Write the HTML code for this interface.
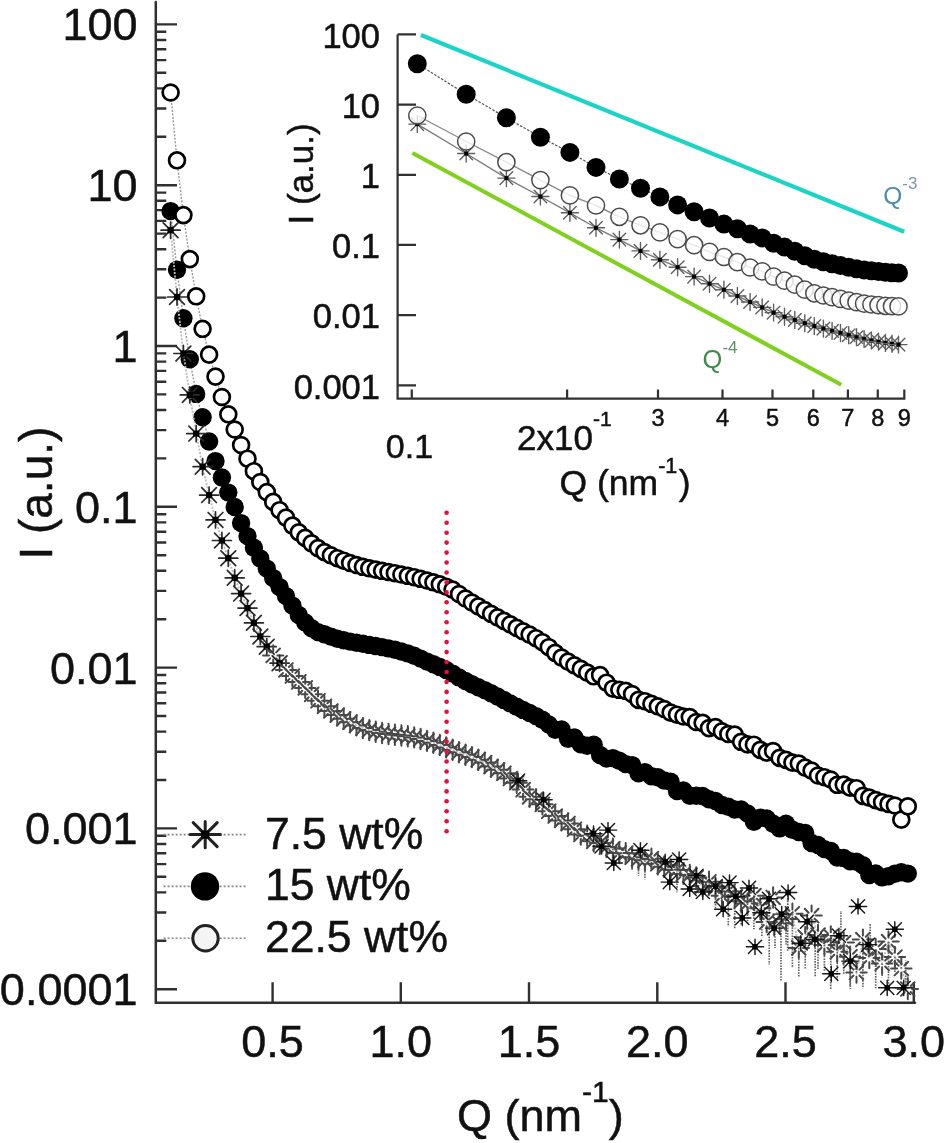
<!DOCTYPE html><html><head><meta charset="utf-8"><style>html,body{margin:0;padding:0;background:#fff;}svg{display:block;filter:blur(0.55px);}</style></head><body><svg width="944" height="1143" viewBox="0 0 944 1143">
<rect width="944" height="1143" fill="#fff"/>
<path d="M155.8 2V1002.8H915" stroke="#303030" stroke-width="2.5" fill="none" stroke-linecap="round"/>
<path d="M155.8 24.4H177M155.8 136.8H166.3M155.8 108.5H166.3M155.8 88.4H166.3M155.8 72.8H166.3M155.8 60.1H166.3M155.8 49.3H166.3M155.8 40.0H166.3M155.8 31.8H166.3M155.8 185.2H177M155.8 297.6H166.3M155.8 269.3H166.3M155.8 249.2H166.3M155.8 233.6H166.3M155.8 220.9H166.3M155.8 210.1H166.3M155.8 200.8H166.3M155.8 192.6H166.3M155.8 346.0H177M155.8 458.4H166.3M155.8 430.1H166.3M155.8 410.0H166.3M155.8 394.4H166.3M155.8 381.7H166.3M155.8 370.9H166.3M155.8 361.6H166.3M155.8 353.4H166.3M155.8 506.8H177M155.8 619.2H166.3M155.8 590.9H166.3M155.8 570.8H166.3M155.8 555.2H166.3M155.8 542.5H166.3M155.8 531.7H166.3M155.8 522.4H166.3M155.8 514.2H166.3M155.8 667.6H177M155.8 780.0H166.3M155.8 751.7H166.3M155.8 731.6H166.3M155.8 716.0H166.3M155.8 703.3H166.3M155.8 692.5H166.3M155.8 683.2H166.3M155.8 675.0H166.3M155.8 828.4H177M155.8 940.8H166.3M155.8 912.5H166.3M155.8 892.4H166.3M155.8 876.8H166.3M155.8 864.1H166.3M155.8 853.3H166.3M155.8 844.0H166.3M155.8 835.8H166.3M155.8 989.2H177M272.6 1002.8V982.3M400.8 1002.8V982.3M529.0 1002.8V982.3M657.3 1002.8V982.3M785.5 1002.8V982.3M913.8 1002.8V982.3" stroke="#303030" stroke-width="2.4" fill="none"/>
<text x="137.5" y="40.4" font-family="Liberation Sans, sans-serif" font-size="45" text-anchor="end" fill="#111" stroke="#111" stroke-width="0.5">100</text>
<text x="137.5" y="201.2" font-family="Liberation Sans, sans-serif" font-size="45" text-anchor="end" fill="#111" stroke="#111" stroke-width="0.5">10</text>
<text x="137.5" y="362.0" font-family="Liberation Sans, sans-serif" font-size="45" text-anchor="end" fill="#111" stroke="#111" stroke-width="0.5">1</text>
<text x="137.5" y="522.8" font-family="Liberation Sans, sans-serif" font-size="45" text-anchor="end" fill="#111" stroke="#111" stroke-width="0.5">0.1</text>
<text x="137.5" y="683.6" font-family="Liberation Sans, sans-serif" font-size="45" text-anchor="end" fill="#111" stroke="#111" stroke-width="0.5">0.01</text>
<text x="137.5" y="844.4" font-family="Liberation Sans, sans-serif" font-size="45" text-anchor="end" fill="#111" stroke="#111" stroke-width="0.5">0.001</text>
<text x="137.5" y="1005.2" font-family="Liberation Sans, sans-serif" font-size="45" text-anchor="end" fill="#111" stroke="#111" stroke-width="0.5">0.0001</text>
<text x="272.6" y="1056.7" font-family="Liberation Sans, sans-serif" font-size="45" text-anchor="middle" fill="#111" stroke="#111" stroke-width="0.5">0.5</text>
<text x="400.8" y="1056.7" font-family="Liberation Sans, sans-serif" font-size="45" text-anchor="middle" fill="#111" stroke="#111" stroke-width="0.5">1.0</text>
<text x="529.0" y="1056.7" font-family="Liberation Sans, sans-serif" font-size="45" text-anchor="middle" fill="#111" stroke="#111" stroke-width="0.5">1.5</text>
<text x="657.3" y="1056.7" font-family="Liberation Sans, sans-serif" font-size="45" text-anchor="middle" fill="#111" stroke="#111" stroke-width="0.5">2.0</text>
<text x="785.5" y="1056.7" font-family="Liberation Sans, sans-serif" font-size="45" text-anchor="middle" fill="#111" stroke="#111" stroke-width="0.5">2.5</text>
<text x="913.8" y="1056.7" font-family="Liberation Sans, sans-serif" font-size="45" text-anchor="middle" fill="#111" stroke="#111" stroke-width="0.5">3.0</text>
<text x="457" y="1131.2" font-family="Liberation Sans, sans-serif" font-size="45" fill="#111" stroke="#111" stroke-width="0.5">Q (nm<tspan dy="-29.5" font-size="30">-1</tspan><tspan dy="29.5">)</tspan></text>
<text transform="translate(51.7 559.6) rotate(-90)" font-family="Liberation Sans, sans-serif" font-size="46" fill="#111" stroke="#111" stroke-width="0.5">I (a.u.)</text>
<polyline points="170.6,211.1 177.0,269.8 183.4,318.3 189.8,359.3 196.2,393.9 202.6,417.2 209.1,441.5 215.5,461.1 221.9,477.5 228.3,492.6 234.7,507.0 241.1,523.1 247.5,536.1 253.9,547.7 260.3,558.4 266.8,568.6 273.2,578.1 279.6,587.1 286.0,596.1 292.4,605.6 298.8,615.0 305.2,622.4 311.6,628.3 318.0,632.1 324.4,634.3 330.9,636.6 337.3,638.7 343.7,640.3 350.1,641.6 356.5,642.7 362.9,643.8 369.3,644.9 375.7,646.0 382.1,647.1 388.5,648.4 394.9,649.8 401.4,651.5 407.8,653.4 414.2,655.7 420.6,658.6 427.0,661.6 433.4,664.3 439.8,666.9 446.2,669.9 452.6,673.6 459.0,677.4 465.5,681.0 471.9,684.2 478.3,687.2 484.7,690.1 491.1,693.2 497.5,696.5 503.9,699.9 510.3,703.4 516.7,706.7 523.1,709.9 529.6,712.9 536.0,716.1 542.4,719.7 548.8,724.5 555.2,729.8 561.6,729.5 568.0,738.8 574.4,737.5 580.8,744.3 587.2,745.7 593.7,744.8 600.1,755.0 606.5,758.6 612.9,758.1 619.3,760.7 625.7,764.1 632.1,765.1 638.5,773.2 644.9,772.1 651.4,776.2 657.8,777.2 664.2,780.5 670.6,781.8 677.0,791.1 683.4,790.5 689.8,795.8 696.2,795.7 702.6,796.0 709.0,799.2 715.5,801.0 721.9,805.0 728.3,806.7 734.7,809.5 741.1,809.5 747.5,813.5 753.9,821.7 760.3,817.7 766.7,818.4 773.1,823.7 779.6,828.4 786.0,823.7 792.4,829.8 798.8,832.0 805.2,832.9 811.6,843.0 818.0,845.0 824.4,849.1 830.8,850.9 837.2,857.5 843.7,857.9 850.1,861.3 856.5,861.8 862.9,865.2 869.3,875.0 875.7,873.4 882.1,877.4 888.5,876.2 894.9,873.7 901.3,872.2 907.8,873.6" fill="none" stroke="#999" stroke-width="1.4" stroke-dasharray="2 1.5"/>
<polyline points="170.6,92.5 177.0,160.3 183.4,215.1 189.8,259.1 196.2,296.3 202.6,328.8 209.1,354.6 215.5,376.6 221.9,397.0 228.3,414.3 234.7,429.5 241.1,445.0 247.5,458.7 253.9,471.2 260.3,482.0 266.8,492.1 273.2,501.9 279.6,510.2 286.0,517.6 292.4,525.6 298.8,532.3 305.2,537.9 311.6,543.3 318.0,548.1 324.4,552.1 330.9,555.3 337.3,558.2 343.7,560.7 350.1,563.0 356.5,565.0 362.9,566.8 369.3,568.3 375.7,569.6 382.1,570.8 388.5,572.0 394.9,573.2 401.4,574.5 407.8,575.8 414.2,577.2 420.6,578.8 427.0,580.5 433.4,582.3 439.8,584.3 446.2,586.7 452.6,589.6 459.0,594.0 465.5,598.5 471.9,602.5 478.3,606.4 484.7,610.1 491.1,613.8 497.5,617.4 503.9,620.9 510.3,624.4 516.7,627.9 523.1,631.3 529.6,634.6 536.0,638.2 542.4,642.2 548.8,647.2 555.2,652.8 561.6,657.6 568.0,661.6 574.4,665.3 580.8,668.9 587.2,672.6 593.7,676.3 600.1,675.1 606.5,682.7 612.9,688.7 619.3,689.8 625.7,690.8 632.1,694.0 638.5,699.9 644.9,701.2 651.4,703.8 657.8,706.3 664.2,709.0 670.6,712.6 677.0,714.7 683.4,716.5 689.8,717.1 696.2,722.0 702.6,722.8 709.0,728.1 715.5,727.1 721.9,731.3 728.3,734.0 734.7,734.6 741.1,741.8 747.5,744.4 753.9,744.7 760.3,749.9 766.7,752.6 773.1,751.0 779.6,757.9 786.0,759.9 792.4,762.6 798.8,763.5 805.2,767.6 811.6,770.6 818.0,775.5 824.4,777.2 830.8,779.5 837.2,784.8 843.7,784.6 850.1,787.6 856.5,788.2 862.9,795.9 869.3,797.6 875.7,800.1 882.1,802.2 888.5,803.9 894.9,805.5 901.3,819.7 907.8,806.3" fill="none" stroke="#999" stroke-width="1.4" stroke-dasharray="2 1.5"/>
<circle cx="170.6" cy="211.1" r="9.2" fill="#000"/>
<circle cx="177.0" cy="269.8" r="9.2" fill="#000"/>
<circle cx="183.4" cy="318.3" r="9.2" fill="#000"/>
<circle cx="189.8" cy="359.3" r="9.2" fill="#000"/>
<circle cx="196.2" cy="393.9" r="9.2" fill="#000"/>
<circle cx="202.6" cy="417.2" r="9.2" fill="#000"/>
<circle cx="209.1" cy="441.5" r="9.2" fill="#000"/>
<circle cx="215.5" cy="461.1" r="9.2" fill="#000"/>
<circle cx="221.9" cy="477.5" r="9.2" fill="#000"/>
<circle cx="228.3" cy="492.6" r="9.2" fill="#000"/>
<circle cx="234.7" cy="507.0" r="9.2" fill="#000"/>
<circle cx="241.1" cy="523.1" r="9.2" fill="#000"/>
<circle cx="247.5" cy="536.1" r="9.2" fill="#000"/>
<circle cx="253.9" cy="547.7" r="9.2" fill="#000"/>
<circle cx="260.3" cy="558.4" r="9.2" fill="#000"/>
<circle cx="266.8" cy="568.6" r="9.2" fill="#000"/>
<circle cx="273.2" cy="578.1" r="9.2" fill="#000"/>
<circle cx="279.6" cy="587.1" r="9.2" fill="#000"/>
<circle cx="286.0" cy="596.1" r="9.2" fill="#000"/>
<circle cx="292.4" cy="605.6" r="9.2" fill="#000"/>
<circle cx="298.8" cy="615.0" r="9.2" fill="#000"/>
<circle cx="305.2" cy="622.4" r="9.2" fill="#000"/>
<circle cx="311.6" cy="628.3" r="9.2" fill="#000"/>
<circle cx="318.0" cy="632.1" r="9.2" fill="#000"/>
<circle cx="324.4" cy="634.3" r="9.2" fill="#000"/>
<circle cx="330.9" cy="636.6" r="9.2" fill="#000"/>
<circle cx="337.3" cy="638.7" r="9.2" fill="#000"/>
<circle cx="343.7" cy="640.3" r="9.2" fill="#000"/>
<circle cx="350.1" cy="641.6" r="9.2" fill="#000"/>
<circle cx="356.5" cy="642.7" r="9.2" fill="#000"/>
<circle cx="362.9" cy="643.8" r="9.2" fill="#000"/>
<circle cx="369.3" cy="644.9" r="9.2" fill="#000"/>
<circle cx="375.7" cy="646.0" r="9.2" fill="#000"/>
<circle cx="382.1" cy="647.1" r="9.2" fill="#000"/>
<circle cx="388.5" cy="648.4" r="9.2" fill="#000"/>
<circle cx="394.9" cy="649.8" r="9.2" fill="#000"/>
<circle cx="401.4" cy="651.5" r="9.2" fill="#000"/>
<circle cx="407.8" cy="653.4" r="9.2" fill="#000"/>
<circle cx="414.2" cy="655.7" r="9.2" fill="#000"/>
<circle cx="420.6" cy="658.6" r="9.2" fill="#000"/>
<circle cx="427.0" cy="661.6" r="9.2" fill="#000"/>
<circle cx="433.4" cy="664.3" r="9.2" fill="#000"/>
<circle cx="439.8" cy="666.9" r="9.2" fill="#000"/>
<circle cx="446.2" cy="669.9" r="9.2" fill="#000"/>
<circle cx="452.6" cy="673.6" r="9.2" fill="#000"/>
<circle cx="459.0" cy="677.4" r="9.2" fill="#000"/>
<circle cx="465.5" cy="681.0" r="9.2" fill="#000"/>
<circle cx="471.9" cy="684.2" r="9.2" fill="#000"/>
<circle cx="478.3" cy="687.2" r="9.2" fill="#000"/>
<circle cx="484.7" cy="690.1" r="9.2" fill="#000"/>
<circle cx="491.1" cy="693.2" r="9.2" fill="#000"/>
<circle cx="497.5" cy="696.5" r="9.2" fill="#000"/>
<circle cx="503.9" cy="699.9" r="9.2" fill="#000"/>
<circle cx="510.3" cy="703.4" r="9.2" fill="#000"/>
<circle cx="516.7" cy="706.7" r="9.2" fill="#000"/>
<circle cx="523.1" cy="709.9" r="9.2" fill="#000"/>
<circle cx="529.6" cy="712.9" r="9.2" fill="#000"/>
<circle cx="536.0" cy="716.1" r="9.2" fill="#000"/>
<circle cx="542.4" cy="719.7" r="9.2" fill="#000"/>
<circle cx="548.8" cy="724.5" r="9.2" fill="#000"/>
<circle cx="555.2" cy="729.8" r="9.2" fill="#000"/>
<circle cx="561.6" cy="729.5" r="9.2" fill="#000"/>
<circle cx="568.0" cy="738.8" r="9.2" fill="#000"/>
<circle cx="574.4" cy="737.5" r="9.2" fill="#000"/>
<circle cx="580.8" cy="744.3" r="9.2" fill="#000"/>
<circle cx="587.2" cy="745.7" r="9.2" fill="#000"/>
<circle cx="593.7" cy="744.8" r="9.2" fill="#000"/>
<circle cx="600.1" cy="755.0" r="9.2" fill="#000"/>
<circle cx="606.5" cy="758.6" r="9.2" fill="#000"/>
<circle cx="612.9" cy="758.1" r="9.2" fill="#000"/>
<circle cx="619.3" cy="760.7" r="9.2" fill="#000"/>
<circle cx="625.7" cy="764.1" r="9.2" fill="#000"/>
<circle cx="632.1" cy="765.1" r="9.2" fill="#000"/>
<circle cx="638.5" cy="773.2" r="9.2" fill="#000"/>
<circle cx="644.9" cy="772.1" r="9.2" fill="#000"/>
<circle cx="651.4" cy="776.2" r="9.2" fill="#000"/>
<circle cx="657.8" cy="777.2" r="9.2" fill="#000"/>
<circle cx="664.2" cy="780.5" r="9.2" fill="#000"/>
<circle cx="670.6" cy="781.8" r="9.2" fill="#000"/>
<circle cx="677.0" cy="791.1" r="9.2" fill="#000"/>
<circle cx="683.4" cy="790.5" r="9.2" fill="#000"/>
<circle cx="689.8" cy="795.8" r="9.2" fill="#000"/>
<circle cx="696.2" cy="795.7" r="9.2" fill="#000"/>
<circle cx="702.6" cy="796.0" r="9.2" fill="#000"/>
<circle cx="709.0" cy="799.2" r="9.2" fill="#000"/>
<circle cx="715.5" cy="801.0" r="9.2" fill="#000"/>
<circle cx="721.9" cy="805.0" r="9.2" fill="#000"/>
<circle cx="728.3" cy="806.7" r="9.2" fill="#000"/>
<circle cx="734.7" cy="809.5" r="9.2" fill="#000"/>
<circle cx="741.1" cy="809.5" r="9.2" fill="#000"/>
<circle cx="747.5" cy="813.5" r="9.2" fill="#000"/>
<circle cx="753.9" cy="821.7" r="9.2" fill="#000"/>
<circle cx="760.3" cy="817.7" r="9.2" fill="#000"/>
<circle cx="766.7" cy="818.4" r="9.2" fill="#000"/>
<circle cx="773.1" cy="823.7" r="9.2" fill="#000"/>
<circle cx="779.6" cy="828.4" r="9.2" fill="#000"/>
<circle cx="786.0" cy="823.7" r="9.2" fill="#000"/>
<circle cx="792.4" cy="829.8" r="9.2" fill="#000"/>
<circle cx="798.8" cy="832.0" r="9.2" fill="#000"/>
<circle cx="805.2" cy="832.9" r="9.2" fill="#000"/>
<circle cx="811.6" cy="843.0" r="9.2" fill="#000"/>
<circle cx="818.0" cy="845.0" r="9.2" fill="#000"/>
<circle cx="824.4" cy="849.1" r="9.2" fill="#000"/>
<circle cx="830.8" cy="850.9" r="9.2" fill="#000"/>
<circle cx="837.2" cy="857.5" r="9.2" fill="#000"/>
<circle cx="843.7" cy="857.9" r="9.2" fill="#000"/>
<circle cx="850.1" cy="861.3" r="9.2" fill="#000"/>
<circle cx="856.5" cy="861.8" r="9.2" fill="#000"/>
<circle cx="862.9" cy="865.2" r="9.2" fill="#000"/>
<circle cx="869.3" cy="875.0" r="9.2" fill="#000"/>
<circle cx="875.7" cy="873.4" r="9.2" fill="#000"/>
<circle cx="882.1" cy="877.4" r="9.2" fill="#000"/>
<circle cx="888.5" cy="876.2" r="9.2" fill="#000"/>
<circle cx="894.9" cy="873.7" r="9.2" fill="#000"/>
<circle cx="901.3" cy="872.2" r="9.2" fill="#000"/>
<circle cx="907.8" cy="873.6" r="9.2" fill="#000"/>
<polyline points="170.6,230.2 177.0,297.0 183.4,353.5 189.8,394.9 196.2,433.6 202.6,466.7 209.1,495.1 215.5,519.9 221.9,540.5 228.3,558.2 234.7,577.8 241.1,593.6 247.5,608.1 253.9,622.8 260.3,636.5 266.8,646.7 273.2,655.4 279.6,663.2 286.0,670.0 292.4,676.1 298.8,681.9 305.2,687.9 311.6,694.3 318.0,700.7 324.4,706.3 330.9,711.0 337.3,715.1 343.7,718.8 350.1,722.2 356.5,725.4 362.9,728.1 369.3,730.1 375.7,731.7 382.1,733.0 388.5,734.0 394.9,734.8 401.4,735.5 407.8,736.2 414.2,737.4 420.6,739.0 427.0,740.9 433.4,742.8 439.8,745.0 446.2,747.4 452.6,749.8 459.0,752.3 465.5,754.7 471.9,757.1 478.3,759.7 484.7,762.6 491.1,766.6 497.5,769.8 503.9,773.2 510.3,778.5 516.7,782.8 523.1,789.6 529.6,796.8 536.0,799.3 542.4,804.3 548.8,811.2 555.2,816.0 561.6,820.4 568.0,823.4 574.4,829.2 580.8,834.6 587.2,835.8 593.7,841.3 600.1,843.0 606.5,847.1 612.9,848.6 619.3,853.0 625.7,853.2 632.1,857.3 638.5,859.0 644.9,860.3 651.4,858.7 657.8,863.7 664.2,866.8 670.6,869.6 677.0,869.9 683.4,873.9 689.8,875.0 696.2,877.4 702.6,886.0 709.0,881.8 715.5,887.8 721.9,895.7 728.3,891.2 734.7,896.9 741.1,901.2 747.5,903.5 753.9,895.7 760.3,908.2 766.7,922.1 773.1,897.5 779.6,923.5 786.0,919.0 792.4,913.8 798.8,947.9 805.2,937.2 811.6,915.6 818.0,935.1 824.4,944.9 830.8,936.5 837.2,951.8 843.7,942.6 850.1,956.8 856.5,972.6 862.9,939.6 869.3,958.0 875.7,949.1 882.1,963.5 888.5,941.6 894.9,957.0 901.3,968.6 907.8,989.0" fill="none" stroke="#bbb" stroke-width="1.8" stroke-dasharray="2 1.5"/>
<path d="M612.9 848.6V860.4M619.3 853.0V863.2M632.1 857.3V870.5M638.5 859.0V876.0M644.9 860.3V879.4M657.8 863.7V875.6M677.0 869.9V892.3M696.2 877.4V889.4M709.0 881.8V896.0M715.5 887.8V909.0M728.3 891.2V926.4M734.7 896.9V929.2M741.1 901.2V925.5M747.5 903.5V923.4M753.9 895.7V929.3M760.3 908.2V920.2M786.0 919.0V944.4M792.4 913.8V968.0M798.8 947.9V977.1M805.2 937.2V969.2M818.0 935.1V969.4M824.4 944.9V971.4M830.8 936.5V971.8M837.2 951.8V980.1M843.7 942.6V974.5M850.1 956.8V986.0M856.5 972.6V968.3M862.9 939.6V988.5M875.7 949.1V988.3M882.1 963.5V977.2M888.5 941.6V987.0M894.9 957.0V972.6M901.3 968.6V966.6M907.8 989.0V976.2M761.9 912.8V937.0M769.2 898.8V964.4M781.0 914.1V980.6M775.0 928.1V948.1M787.7 892.5V951.7M815.2 939.5V977.3M830.7 973.8V989.0M840.9 935.7V911.1M850.3 961.1V989.0M870.2 944.6V923.3M886.3 987.8V989.0M903.1 987.8V989.0M905.7 987.8V960.2" stroke="#666" stroke-width="1.7" stroke-dasharray="1.6 1.1" fill="none"/>
<path d="M170.6 230.2L180.1 230.2M170.6 230.2L178.0 237.6M170.6 230.2L170.6 238.3M170.6 230.2L163.2 237.6M170.6 230.2L161.1 230.2M170.6 230.2L163.2 222.8M170.6 230.2L170.6 222.1M170.6 230.2L178.0 222.8" stroke="#2a2a2a" stroke-width="1.7" stroke-linecap="round" fill="none"/><rect x="167.5" y="227.1" width="6.2" height="6.2" fill="#000"/>
<path d="M177.0 297.0L186.5 297.0M177.0 297.0L184.4 304.4M177.0 297.0L177.0 305.1M177.0 297.0L169.6 304.4M177.0 297.0L167.5 297.0M177.0 297.0L169.6 289.6M177.0 297.0L177.0 288.9M177.0 297.0L184.4 289.6" stroke="#2a2a2a" stroke-width="1.7" stroke-linecap="round" fill="none"/><rect x="173.9" y="293.9" width="6.2" height="6.2" fill="#000"/>
<path d="M183.4 353.5L192.9 353.5M183.4 353.5L190.8 360.9M183.4 353.5L183.4 361.6M183.4 353.5L176.0 360.9M183.4 353.5L173.9 353.5M183.4 353.5L176.0 346.1M183.4 353.5L183.4 345.4M183.4 353.5L190.8 346.1" stroke="#2a2a2a" stroke-width="1.7" stroke-linecap="round" fill="none"/><rect x="180.3" y="350.4" width="6.2" height="6.2" fill="#000"/>
<path d="M189.8 394.9L199.3 394.9M189.8 394.9L197.2 402.3M189.8 394.9L189.8 403.0M189.8 394.9L182.4 402.3M189.8 394.9L180.3 394.9M189.8 394.9L182.4 387.5M189.8 394.9L189.8 386.8M189.8 394.9L197.2 387.5" stroke="#2a2a2a" stroke-width="1.7" stroke-linecap="round" fill="none"/><rect x="186.7" y="391.8" width="6.2" height="6.2" fill="#000"/>
<path d="M196.2 433.6L205.7 433.6M196.2 433.6L203.6 441.0M196.2 433.6L196.2 441.7M196.2 433.6L188.9 441.0M196.2 433.6L186.7 433.6M196.2 433.6L188.9 426.2M196.2 433.6L196.2 425.5M196.2 433.6L203.6 426.2" stroke="#2a2a2a" stroke-width="1.7" stroke-linecap="round" fill="none"/><rect x="193.1" y="430.5" width="6.2" height="6.2" fill="#000"/>
<path d="M202.6 466.7L212.1 466.7M202.6 466.7L210.0 474.1M202.6 466.7L202.6 474.8M202.6 466.7L195.3 474.1M202.6 466.7L193.1 466.7M202.6 466.7L195.3 459.3M202.6 466.7L202.6 458.6M202.6 466.7L210.0 459.3" stroke="#2a2a2a" stroke-width="1.7" stroke-linecap="round" fill="none"/><rect x="199.5" y="463.6" width="6.2" height="6.2" fill="#000"/>
<path d="M209.1 495.1L218.6 495.1M209.1 495.1L216.4 502.5M209.1 495.1L209.1 503.2M209.1 495.1L201.7 502.5M209.1 495.1L199.6 495.1M209.1 495.1L201.7 487.7M209.1 495.1L209.1 487.0M209.1 495.1L216.4 487.7" stroke="#2a2a2a" stroke-width="1.7" stroke-linecap="round" fill="none"/><rect x="206.0" y="492.0" width="6.2" height="6.2" fill="#000"/>
<path d="M215.5 519.9L225.0 519.9M215.5 519.9L222.9 527.3M215.5 519.9L215.5 528.0M215.5 519.9L208.1 527.3M215.5 519.9L206.0 519.9M215.5 519.9L208.1 512.5M215.5 519.9L215.5 511.8M215.5 519.9L222.9 512.5" stroke="#2a2a2a" stroke-width="1.7" stroke-linecap="round" fill="none"/><rect x="212.4" y="516.8" width="6.2" height="6.2" fill="#000"/>
<path d="M221.9 540.5L231.4 540.5M221.9 540.5L229.3 547.9M221.9 540.5L221.9 548.6M221.9 540.5L214.5 547.9M221.9 540.5L212.4 540.5M221.9 540.5L214.5 533.1M221.9 540.5L221.9 532.4M221.9 540.5L229.3 533.1" stroke="#2a2a2a" stroke-width="1.7" stroke-linecap="round" fill="none"/><rect x="218.8" y="537.4" width="6.2" height="6.2" fill="#000"/>
<path d="M228.3 558.2L237.8 558.2M228.3 558.2L235.7 565.6M228.3 558.2L228.3 566.3M228.3 558.2L220.9 565.6M228.3 558.2L218.8 558.2M228.3 558.2L220.9 550.8M228.3 558.2L228.3 550.1M228.3 558.2L235.7 550.8" stroke="#2a2a2a" stroke-width="1.7" stroke-linecap="round" fill="none"/><rect x="225.2" y="555.1" width="6.2" height="6.2" fill="#000"/>
<path d="M234.7 577.8L244.2 577.8M234.7 577.8L242.1 585.2M234.7 577.8L234.7 585.9M234.7 577.8L227.3 585.2M234.7 577.8L225.2 577.8M234.7 577.8L227.3 570.4M234.7 577.8L234.7 569.7M234.7 577.8L242.1 570.4" stroke="#2a2a2a" stroke-width="1.7" stroke-linecap="round" fill="none"/><rect x="231.6" y="574.7" width="6.2" height="6.2" fill="#000"/>
<path d="M241.1 593.6L250.6 593.6M241.1 593.6L248.5 601.0M241.1 593.6L241.1 601.7M241.1 593.6L233.7 601.0M241.1 593.6L231.6 593.6M241.1 593.6L233.7 586.2M241.1 593.6L241.1 585.5M241.1 593.6L248.5 586.2" stroke="#2a2a2a" stroke-width="1.7" stroke-linecap="round" fill="none"/><rect x="238.0" y="590.5" width="6.2" height="6.2" fill="#000"/>
<path d="M247.5 608.1L257.0 608.1M247.5 608.1L254.9 615.4M247.5 608.1L247.5 616.1M247.5 608.1L240.1 615.4M247.5 608.1L238.0 608.1M247.5 608.1L240.1 600.7M247.5 608.1L247.5 600.0M247.5 608.1L254.9 600.7" stroke="#2a2a2a" stroke-width="1.7" stroke-linecap="round" fill="none"/><rect x="244.4" y="605.0" width="6.2" height="6.2" fill="#000"/>
<path d="M253.9 622.8L263.4 622.8M253.9 622.8L261.3 630.2M253.9 622.8L253.9 630.9M253.9 622.8L246.5 630.2M253.9 622.8L244.4 622.8M253.9 622.8L246.5 615.4M253.9 622.8L253.9 614.7M253.9 622.8L261.3 615.4" stroke="#2a2a2a" stroke-width="1.7" stroke-linecap="round" fill="none"/><rect x="250.8" y="619.7" width="6.2" height="6.2" fill="#000"/>
<path d="M260.3 636.5L269.8 636.5M260.3 636.5L267.7 643.9M260.3 636.5L260.3 644.6M260.3 636.5L253.0 643.9M260.3 636.5L250.8 636.5M260.3 636.5L253.0 629.1M260.3 636.5L260.3 628.4M260.3 636.5L267.7 629.1" stroke="#2a2a2a" stroke-width="1.7" stroke-linecap="round" fill="none"/><rect x="257.2" y="633.4" width="6.2" height="6.2" fill="#000"/>
<path d="M266.8 646.7L276.2 646.7M266.8 646.7L274.1 654.1M266.8 646.7L266.8 654.8M266.8 646.7L259.4 654.1M266.8 646.7L257.2 646.7M266.8 646.7L259.4 639.3M266.8 646.7L266.8 638.6M266.8 646.7L274.1 639.3" stroke="#2a2a2a" stroke-width="1.7" stroke-linecap="round" fill="none"/><rect x="263.6" y="643.6" width="6.2" height="6.2" fill="#000"/>
<path d="M277.4 655.4L283.4 655.4M276.1 658.4L280.0 662.2M273.2 659.6L273.2 665.6M270.2 658.4L266.3 662.2M269.0 655.4L263.0 655.4M270.2 652.4L266.3 648.5M273.2 651.2L273.2 645.2M276.1 652.4L280.0 648.5" stroke="#484848" stroke-width="2.0" stroke-linecap="round" fill="none"/>
<path d="M279.6 663.2L289.1 663.2M279.6 663.2L287.0 670.6M279.6 663.2L279.6 671.3M279.6 663.2L272.2 670.6M279.6 663.2L270.1 663.2M279.6 663.2L272.2 655.8M279.6 663.2L279.6 655.1M279.6 663.2L287.0 655.8" stroke="#2a2a2a" stroke-width="1.7" stroke-linecap="round" fill="none"/><rect x="276.5" y="660.1" width="6.2" height="6.2" fill="#000"/>
<path d="M290.2 670.0L296.2 670.0M288.9 673.0L292.8 676.8M286.0 674.2L286.0 680.2M283.0 673.0L279.1 676.8M281.8 670.0L275.8 670.0M283.0 667.0L279.1 663.1M286.0 665.8L286.0 659.8M288.9 667.0L292.8 663.1" stroke="#484848" stroke-width="2.0" stroke-linecap="round" fill="none"/>
<path d="M296.6 676.1L302.6 676.1M295.4 679.0L299.2 682.9M292.4 680.3L292.4 686.3M289.4 679.0L285.5 682.9M288.2 676.1L282.2 676.1M289.4 673.1L285.5 669.2M292.4 671.9L292.4 665.9M295.4 673.1L299.2 669.2" stroke="#484848" stroke-width="2.0" stroke-linecap="round" fill="none"/>
<path d="M303.0 681.9L309.0 681.9M301.8 684.8L305.7 688.7M298.8 686.1L298.8 692.1M295.8 684.8L291.9 688.7M294.6 681.9L288.6 681.9M295.8 678.9L291.9 675.0M298.8 677.7L298.8 671.7M301.8 678.9L305.7 675.0" stroke="#484848" stroke-width="2.0" stroke-linecap="round" fill="none"/>
<path d="M309.4 687.9L315.4 687.9M308.2 690.8L312.1 694.7M305.2 692.1L305.2 698.1M302.2 690.8L298.4 694.7M301.0 687.9L295.0 687.9M302.2 684.9L298.4 681.0M305.2 683.7L305.2 677.7M308.2 684.9L312.1 681.0" stroke="#484848" stroke-width="2.0" stroke-linecap="round" fill="none"/>
<path d="M315.8 694.3L321.8 694.3M314.6 697.3L318.5 701.2M311.6 698.5L311.6 704.5M308.7 697.3L304.8 701.2M307.4 694.3L301.4 694.3M308.7 691.3L304.8 687.5M311.6 690.1L311.6 684.1M314.6 691.3L318.5 687.5" stroke="#484848" stroke-width="2.0" stroke-linecap="round" fill="none"/>
<path d="M322.2 700.7L328.2 700.7M321.0 703.7L324.9 707.6M318.0 704.9L318.0 710.9M315.1 703.7L311.2 707.6M313.8 700.7L307.8 700.7M315.1 697.7L311.2 693.9M318.0 696.5L318.0 690.5M321.0 697.7L324.9 693.9" stroke="#484848" stroke-width="2.0" stroke-linecap="round" fill="none"/>
<path d="M328.6 706.3L334.6 706.3M327.4 709.3L331.3 713.2M324.4 710.5L324.4 716.5M321.5 709.3L317.6 713.2M320.2 706.3L314.2 706.3M321.5 703.3L317.6 699.4M324.4 702.1L324.4 696.1M327.4 703.3L331.3 699.4" stroke="#484848" stroke-width="2.0" stroke-linecap="round" fill="none"/>
<path d="M335.1 711.0L341.1 711.0M333.8 713.9L337.7 717.8M330.9 715.2L330.9 721.2M327.9 713.9L324.0 717.8M326.7 711.0L320.7 711.0M327.9 708.0L324.0 704.1M330.9 706.8L330.9 700.8M333.8 708.0L337.7 704.1" stroke="#484848" stroke-width="2.0" stroke-linecap="round" fill="none"/>
<path d="M341.5 715.1L347.5 715.1M340.2 718.1L344.1 722.0M337.3 719.3L337.3 725.3M334.3 718.1L330.4 722.0M333.1 715.1L327.1 715.1M334.3 712.1L330.4 708.2M337.3 710.9L337.3 704.9M340.2 712.1L344.1 708.2" stroke="#484848" stroke-width="2.0" stroke-linecap="round" fill="none"/>
<path d="M347.9 718.8L353.9 718.8M346.6 721.8L350.5 725.7M343.7 723.0L343.7 729.0M340.7 721.8L336.8 725.7M339.5 718.8L333.5 718.8M340.7 715.8L336.8 712.0M343.7 714.6L343.7 708.6M346.6 715.8L350.5 712.0" stroke="#484848" stroke-width="2.0" stroke-linecap="round" fill="none"/>
<path d="M354.3 722.2L360.3 722.2M353.0 725.2L356.9 729.0M350.1 726.4L350.1 732.4M347.1 725.2L343.2 729.0M345.9 722.2L339.9 722.2M347.1 719.2L343.2 715.3M350.1 718.0L350.1 712.0M353.0 719.2L356.9 715.3" stroke="#484848" stroke-width="2.0" stroke-linecap="round" fill="none"/>
<path d="M360.7 725.4L366.7 725.4M359.5 728.3L363.3 732.2M356.5 729.6L356.5 735.6M353.5 728.3L349.6 732.2M352.3 725.4L346.3 725.4M353.5 722.4L349.6 718.5M356.5 721.2L356.5 715.2M359.5 722.4L363.3 718.5" stroke="#484848" stroke-width="2.0" stroke-linecap="round" fill="none"/>
<path d="M367.1 728.1L373.1 728.1M365.9 731.1L369.8 735.0M362.9 732.3L362.9 738.3M359.9 731.1L356.0 735.0M358.7 728.1L352.7 728.1M359.9 725.1L356.0 721.3M362.9 723.9L362.9 717.9M365.9 725.1L369.8 721.3" stroke="#484848" stroke-width="2.0" stroke-linecap="round" fill="none"/>
<path d="M373.5 730.1L379.5 730.1M372.3 733.1L376.2 737.0M369.3 734.3L369.3 740.3M366.3 733.1L362.5 737.0M365.1 730.1L359.1 730.1M366.3 727.1L362.5 723.3M369.3 725.9L369.3 719.9M372.3 727.1L376.2 723.3" stroke="#484848" stroke-width="2.0" stroke-linecap="round" fill="none"/>
<path d="M379.9 731.7L385.9 731.7M378.7 734.7L382.6 738.5M375.7 735.9L375.7 741.9M372.8 734.7L368.9 738.5M371.5 731.7L365.5 731.7M372.8 728.7L368.9 724.8M375.7 727.5L375.7 721.5M378.7 728.7L382.6 724.8" stroke="#484848" stroke-width="2.0" stroke-linecap="round" fill="none"/>
<path d="M386.3 733.0L392.3 733.0M385.1 735.9L389.0 739.8M382.1 737.2L382.1 743.2M379.2 735.9L375.3 739.8M377.9 733.0L371.9 733.0M379.2 730.0L375.3 726.1M382.1 728.8L382.1 722.8M385.1 730.0L389.0 726.1" stroke="#484848" stroke-width="2.0" stroke-linecap="round" fill="none"/>
<path d="M392.7 734.0L398.7 734.0M391.5 737.0L395.4 740.9M388.5 738.2L388.5 744.2M385.6 737.0L381.7 740.9M384.3 734.0L378.3 734.0M385.6 731.1L381.7 727.2M388.5 729.8L388.5 723.8M391.5 731.1L395.4 727.2" stroke="#484848" stroke-width="2.0" stroke-linecap="round" fill="none"/>
<path d="M399.1 734.8L405.1 734.8M397.9 737.8L401.8 741.7M394.9 739.0L394.9 745.0M392.0 737.8L388.1 741.7M390.8 734.8L384.8 734.8M392.0 731.9L388.1 728.0M394.9 730.6L394.9 724.6M397.9 731.9L401.8 728.0" stroke="#484848" stroke-width="2.0" stroke-linecap="round" fill="none"/>
<path d="M405.6 735.5L411.6 735.5M404.3 738.4L408.2 742.3M401.4 739.7L401.4 745.7M398.4 738.4L394.5 742.3M397.2 735.5L391.2 735.5M398.4 732.5L394.5 728.6M401.4 731.3L401.4 725.3M404.3 732.5L408.2 728.6" stroke="#484848" stroke-width="2.0" stroke-linecap="round" fill="none"/>
<path d="M412.0 736.2L418.0 736.2M410.7 739.2L414.6 743.1M407.8 740.4L407.8 746.4M404.8 739.2L400.9 743.1M403.6 736.2L397.6 736.2M404.8 733.3L400.9 729.4M407.8 732.0L407.8 726.0M410.7 733.3L414.6 729.4" stroke="#484848" stroke-width="2.0" stroke-linecap="round" fill="none"/>
<path d="M418.4 737.4L424.4 737.4M417.1 740.4L421.0 744.3M414.2 741.6L414.2 747.6M411.2 740.4L407.3 744.3M410.0 737.4L404.0 737.4M411.2 734.4L407.3 730.6M414.2 733.2L414.2 727.2M417.1 734.4L421.0 730.6" stroke="#484848" stroke-width="2.0" stroke-linecap="round" fill="none"/>
<path d="M424.8 739.0L430.8 739.0M423.6 742.0L427.4 745.9M420.6 743.2L420.6 749.2M417.6 742.0L413.7 745.9M416.4 739.0L410.4 739.0M417.6 736.0L413.7 732.2M420.6 734.8L420.6 728.8M423.6 736.0L427.4 732.2" stroke="#484848" stroke-width="2.0" stroke-linecap="round" fill="none"/>
<path d="M431.2 740.9L437.2 740.9M430.0 743.9L433.9 747.7M427.0 745.1L427.0 751.1M424.0 743.9L420.1 747.7M422.8 740.9L416.8 740.9M424.0 737.9L420.1 734.0M427.0 736.7L427.0 730.7M430.0 737.9L433.9 734.0" stroke="#484848" stroke-width="2.0" stroke-linecap="round" fill="none"/>
<path d="M437.6 742.8L443.6 742.8M436.4 745.8L440.3 749.7M433.4 747.0L433.4 753.0M430.4 745.8L426.6 749.7M429.2 742.8L423.2 742.8M430.4 739.9L426.6 736.0M433.4 738.6L433.4 732.6M436.4 739.9L440.3 736.0" stroke="#484848" stroke-width="2.0" stroke-linecap="round" fill="none"/>
<path d="M444.0 745.0L450.0 745.0M442.8 748.0L446.7 751.9M439.8 749.2L439.8 755.2M436.9 748.0L433.0 751.9M435.6 745.0L429.6 745.0M436.9 742.1L433.0 738.2M439.8 740.8L439.8 734.8M442.8 742.1L446.7 738.2" stroke="#484848" stroke-width="2.0" stroke-linecap="round" fill="none"/>
<path d="M450.4 747.4L456.4 747.4M449.2 750.4L453.1 754.2M446.2 751.6L446.2 757.6M443.3 750.4L439.4 754.2M442.0 747.4L436.0 747.4M443.3 744.4L439.4 740.5M446.2 743.2L446.2 737.2M449.2 744.4L453.1 740.5" stroke="#484848" stroke-width="2.0" stroke-linecap="round" fill="none"/>
<path d="M456.8 749.8L462.8 749.8M455.6 752.8L459.5 756.7M452.6 754.0L452.6 760.0M449.7 752.8L445.8 756.7M448.4 749.8L442.4 749.8M449.7 746.9L445.8 743.0M452.6 745.6L452.6 739.6M455.6 746.9L459.5 743.0" stroke="#484848" stroke-width="2.0" stroke-linecap="round" fill="none"/>
<path d="M463.2 752.3L469.2 752.3M462.0 755.3L465.9 759.1M459.0 756.5L459.0 762.5M456.1 755.3L452.2 759.1M454.8 752.3L448.8 752.3M456.1 749.3L452.2 745.4M459.0 748.1L459.0 742.1M462.0 749.3L465.9 745.4" stroke="#484848" stroke-width="2.0" stroke-linecap="round" fill="none"/>
<path d="M469.7 754.7L475.7 754.7M468.4 757.6L472.3 761.5M465.5 758.9L465.5 764.9M462.5 757.6L458.6 761.5M461.3 754.7L455.3 754.7M462.5 751.7L458.6 747.8M465.5 750.5L465.5 744.5M468.4 751.7L472.3 747.8" stroke="#484848" stroke-width="2.0" stroke-linecap="round" fill="none"/>
<path d="M476.1 757.1L482.1 757.1M474.8 760.0L478.7 763.9M471.9 761.3L471.9 767.3M468.9 760.0L465.0 763.9M467.7 757.1L461.7 757.1M468.9 754.1L465.0 750.2M471.9 752.9L471.9 746.9M474.8 754.1L478.7 750.2" stroke="#484848" stroke-width="2.0" stroke-linecap="round" fill="none"/>
<path d="M482.5 759.7L488.5 759.7M481.2 762.6L485.1 766.5M478.3 763.9L478.3 769.9M475.3 762.6L471.4 766.5M474.1 759.7L468.1 759.7M475.3 756.7L471.4 752.8M478.3 755.5L478.3 749.5M481.2 756.7L485.1 752.8" stroke="#484848" stroke-width="2.0" stroke-linecap="round" fill="none"/>
<path d="M488.9 762.6L494.9 762.6M487.7 765.6L491.5 769.5M484.7 766.8L484.7 772.8M481.7 765.6L477.8 769.5M480.5 762.6L474.5 762.6M481.7 759.7L477.8 755.8M484.7 758.4L484.7 752.4M487.7 759.7L491.5 755.8" stroke="#484848" stroke-width="2.0" stroke-linecap="round" fill="none"/>
<path d="M495.3 766.6L501.3 766.6M494.1 769.6L498.0 773.5M491.1 770.8L491.1 776.8M488.1 769.6L484.2 773.5M486.9 766.6L480.9 766.6M488.1 763.7L484.2 759.8M491.1 762.4L491.1 756.4M494.1 763.7L498.0 759.8" stroke="#484848" stroke-width="2.0" stroke-linecap="round" fill="none"/>
<path d="M501.7 769.8L507.7 769.8M500.5 772.8L504.4 776.7M497.5 774.0L497.5 780.0M494.5 772.8L490.7 776.7M493.3 769.8L487.3 769.8M494.5 766.9L490.7 763.0M497.5 765.6L497.5 759.6M500.5 766.9L504.4 763.0" stroke="#484848" stroke-width="2.0" stroke-linecap="round" fill="none"/>
<path d="M508.1 773.2L514.1 773.2M506.9 776.2L510.8 780.1M503.9 777.4L503.9 783.4M501.0 776.2L497.1 780.1M499.7 773.2L493.7 773.2M501.0 770.3L497.1 766.4M503.9 769.0L503.9 763.0M506.9 770.3L510.8 766.4" stroke="#484848" stroke-width="2.0" stroke-linecap="round" fill="none"/>
<path d="M514.5 778.5L520.5 778.5M513.3 781.5L517.2 785.4M510.3 782.7L510.3 788.7M507.4 781.5L503.5 785.4M506.1 778.5L500.1 778.5M507.4 775.5L503.5 771.7M510.3 774.3L510.3 768.3M513.3 775.5L517.2 771.7" stroke="#484848" stroke-width="2.0" stroke-linecap="round" fill="none"/>
<path d="M520.9 782.8L526.9 782.8M519.7 785.7L523.6 789.6M516.7 787.0L516.7 793.0M513.8 785.7L509.9 789.6M512.5 782.8L506.5 782.8M513.8 779.8L509.9 775.9M516.7 778.6L516.7 772.6M519.7 779.8L523.6 775.9" stroke="#484848" stroke-width="2.0" stroke-linecap="round" fill="none"/>
<path d="M527.4 789.6L533.4 789.6M526.1 792.6L530.0 796.5M523.1 793.8L523.1 799.8M520.2 792.6L516.3 796.5M518.9 789.6L512.9 789.6M520.2 786.7L516.3 782.8M523.1 785.4L523.1 779.4M526.1 786.7L530.0 782.8" stroke="#484848" stroke-width="2.0" stroke-linecap="round" fill="none"/>
<path d="M533.8 796.8L539.8 796.8M532.5 799.8L536.4 803.7M529.6 801.0L529.6 807.0M526.6 799.8L522.7 803.7M525.4 796.8L519.4 796.8M526.6 793.9L522.7 790.0M529.6 792.6L529.6 786.6M532.5 793.9L536.4 790.0" stroke="#484848" stroke-width="2.0" stroke-linecap="round" fill="none"/>
<path d="M540.2 799.3L546.2 799.3M538.9 802.2L542.8 806.1M536.0 803.5L536.0 809.5M533.0 802.2L529.1 806.1M531.8 799.3L525.8 799.3M533.0 796.3L529.1 792.4M536.0 795.1L536.0 789.1M538.9 796.3L542.8 792.4" stroke="#484848" stroke-width="2.0" stroke-linecap="round" fill="none"/>
<path d="M546.6 804.3L552.6 804.3M545.3 807.3L549.2 811.2M542.4 808.5L542.4 814.5M539.4 807.3L535.5 811.2M538.2 804.3L532.2 804.3M539.4 801.4L535.5 797.5M542.4 800.1L542.4 794.1M545.3 801.4L549.2 797.5" stroke="#484848" stroke-width="2.0" stroke-linecap="round" fill="none"/>
<path d="M553.0 811.2L559.0 811.2M551.8 814.2L555.6 818.1M548.8 815.4L548.8 821.4M545.8 814.2L541.9 818.1M544.6 811.2L538.6 811.2M545.8 808.2L541.9 804.3M548.8 807.0L548.8 801.0M551.8 808.2L555.6 804.3" stroke="#484848" stroke-width="2.0" stroke-linecap="round" fill="none"/>
<path d="M559.4 816.0L565.4 816.0M558.2 819.0L562.1 822.9M555.2 820.2L555.2 826.2M552.2 819.0L548.3 822.9M551.0 816.0L545.0 816.0M552.2 813.0L548.3 809.2M555.2 811.8L555.2 805.8M558.2 813.0L562.1 809.2" stroke="#484848" stroke-width="2.0" stroke-linecap="round" fill="none"/>
<path d="M565.8 820.4L571.8 820.4M564.6 823.4L568.5 827.2M561.6 824.6L561.6 830.6M558.6 823.4L554.8 827.2M557.4 820.4L551.4 820.4M558.6 817.4L554.8 813.5M561.6 816.2L561.6 810.2M564.6 817.4L568.5 813.5" stroke="#484848" stroke-width="2.0" stroke-linecap="round" fill="none"/>
<path d="M572.2 823.4L578.2 823.4M571.0 826.4L574.9 830.3M568.0 827.6L568.0 833.6M565.1 826.4L561.2 830.3M563.8 823.4L557.8 823.4M565.1 820.5L561.2 816.6M568.0 819.2L568.0 813.2M571.0 820.5L574.9 816.6" stroke="#484848" stroke-width="2.0" stroke-linecap="round" fill="none"/>
<path d="M578.6 829.2L584.6 829.2M577.4 832.2L581.3 836.1M574.4 833.4L574.4 839.4M571.5 832.2L567.6 836.1M570.2 829.2L564.2 829.2M571.5 826.3L567.6 822.4M574.4 825.0L574.4 819.0M577.4 826.3L581.3 822.4" stroke="#484848" stroke-width="2.0" stroke-linecap="round" fill="none"/>
<path d="M585.0 834.6L591.0 834.6M583.8 837.6L587.7 841.4M580.8 838.8L580.8 844.8M577.9 837.6L574.0 841.4M576.6 834.6L570.6 834.6M577.9 831.6L574.0 827.7M580.8 830.4L580.8 824.4M583.8 831.6L587.7 827.7" stroke="#484848" stroke-width="2.0" stroke-linecap="round" fill="none"/>
<path d="M591.5 835.8L597.5 835.8M590.2 838.7L594.1 842.6M587.2 840.0L587.2 846.0M584.3 838.7L580.4 842.6M583.0 835.8L577.0 835.8M584.3 832.8L580.4 828.9M587.2 831.6L587.2 825.6M590.2 832.8L594.1 828.9" stroke="#484848" stroke-width="2.0" stroke-linecap="round" fill="none"/>
<path d="M597.9 841.3L603.9 841.3M596.6 844.3L600.5 848.2M593.7 845.5L593.7 851.5M590.7 844.3L586.8 848.2M589.5 841.3L583.5 841.3M590.7 838.3L586.8 834.5M593.7 837.1L593.7 831.1M596.6 838.3L600.5 834.5" stroke="#484848" stroke-width="2.0" stroke-linecap="round" fill="none"/>
<path d="M604.3 843.0L610.3 843.0M603.0 846.0L606.9 849.9M600.1 847.2L600.1 853.2M597.1 846.0L593.2 849.9M595.9 843.0L589.9 843.0M597.1 840.1L593.2 836.2M600.1 838.8L600.1 832.8M603.0 840.1L606.9 836.2" stroke="#484848" stroke-width="2.0" stroke-linecap="round" fill="none"/>
<path d="M610.7 847.1L616.7 847.1M609.4 850.1L613.3 854.0M606.5 851.3L606.5 857.3M603.5 850.1L599.6 854.0M602.3 847.1L596.3 847.1M603.5 844.1L599.6 840.3M606.5 842.9L606.5 836.9M609.4 844.1L613.3 840.3" stroke="#484848" stroke-width="2.0" stroke-linecap="round" fill="none"/>
<path d="M617.1 848.6L623.1 848.6M615.9 851.6L619.7 855.5M612.9 852.8L612.9 858.8M609.9 851.6L606.0 855.5M608.7 848.6L602.7 848.6M609.9 845.7L606.0 841.8M612.9 844.4L612.9 838.4M615.9 845.7L619.7 841.8" stroke="#484848" stroke-width="2.0" stroke-linecap="round" fill="none"/>
<path d="M623.5 853.0L629.5 853.0M622.3 855.9L626.2 859.8M619.3 857.2L619.3 863.2M616.3 855.9L612.4 859.8M615.1 853.0L609.1 853.0M616.3 850.0L612.4 846.1M619.3 848.8L619.3 842.8M622.3 850.0L626.2 846.1" stroke="#484848" stroke-width="2.0" stroke-linecap="round" fill="none"/>
<path d="M629.9 853.2L635.9 853.2M628.7 856.1L632.6 860.0M625.7 857.4L625.7 863.4M622.7 856.1L618.9 860.0M621.5 853.2L615.5 853.2M622.7 850.2L618.9 846.3M625.7 849.0L625.7 843.0M628.7 850.2L632.6 846.3" stroke="#484848" stroke-width="2.0" stroke-linecap="round" fill="none"/>
<path d="M636.3 857.3L642.3 857.3M635.1 860.2L639.0 864.1M632.1 861.5L632.1 867.5M629.2 860.2L625.3 864.1M627.9 857.3L621.9 857.3M629.2 854.3L625.3 850.4M632.1 853.1L632.1 847.1M635.1 854.3L639.0 850.4" stroke="#484848" stroke-width="2.0" stroke-linecap="round" fill="none"/>
<path d="M642.7 859.0L648.7 859.0M641.5 861.9L645.4 865.8M638.5 863.2L638.5 869.2M635.6 861.9L631.7 865.8M634.3 859.0L628.3 859.0M635.6 856.0L631.7 852.1M638.5 854.8L638.5 848.8M641.5 856.0L645.4 852.1" stroke="#484848" stroke-width="2.0" stroke-linecap="round" fill="none"/>
<path d="M649.1 860.3L655.1 860.3M647.9 863.3L651.8 867.1M644.9 864.5L644.9 870.5M642.0 863.3L638.1 867.1M640.7 860.3L634.7 860.3M642.0 857.3L638.1 853.4M644.9 856.1L644.9 850.1M647.9 857.3L651.8 853.4" stroke="#484848" stroke-width="2.0" stroke-linecap="round" fill="none"/>
<path d="M655.6 858.7L661.6 858.7M654.3 861.6L658.2 865.5M651.4 862.9L651.4 868.9M648.4 861.6L644.5 865.5M647.1 858.7L641.1 858.7M648.4 855.7L644.5 851.8M651.4 854.5L651.4 848.5M654.3 855.7L658.2 851.8" stroke="#484848" stroke-width="2.0" stroke-linecap="round" fill="none"/>
<path d="M662.0 863.7L668.0 863.7M660.7 866.7L664.6 870.6M657.8 867.9L657.8 873.9M654.8 866.7L650.9 870.6M653.6 863.7L647.6 863.7M654.8 860.7L650.9 856.9M657.8 859.5L657.8 853.5M660.7 860.7L664.6 856.9" stroke="#484848" stroke-width="2.0" stroke-linecap="round" fill="none"/>
<path d="M668.4 866.8L674.4 866.8M667.1 869.8L671.0 873.7M664.2 871.0L664.2 877.0M661.2 869.8L657.3 873.7M660.0 866.8L654.0 866.8M661.2 863.8L657.3 859.9M664.2 862.6L664.2 856.6M667.1 863.8L671.0 859.9" stroke="#484848" stroke-width="2.0" stroke-linecap="round" fill="none"/>
<path d="M674.8 869.6L680.8 869.6M673.5 872.6L677.4 876.5M670.6 873.8L670.6 879.8M667.6 872.6L663.7 876.5M666.4 869.6L660.4 869.6M667.6 866.7L663.7 862.8M670.6 865.4L670.6 859.4M673.5 866.7L677.4 862.8" stroke="#484848" stroke-width="2.0" stroke-linecap="round" fill="none"/>
<path d="M681.2 869.9L687.2 869.9M680.0 872.8L683.8 876.7M677.0 874.1L677.0 880.1M674.0 872.8L670.1 876.7M672.8 869.9L666.8 869.9M674.0 866.9L670.1 863.0M677.0 865.7L677.0 859.7M680.0 866.9L683.8 863.0" stroke="#484848" stroke-width="2.0" stroke-linecap="round" fill="none"/>
<path d="M687.6 873.9L693.6 873.9M686.4 876.9L690.3 880.8M683.4 878.1L683.4 884.1M680.4 876.9L676.5 880.8M679.2 873.9L673.2 873.9M680.4 871.0L676.5 867.1M683.4 869.7L683.4 863.7M686.4 871.0L690.3 867.1" stroke="#484848" stroke-width="2.0" stroke-linecap="round" fill="none"/>
<path d="M694.0 875.0L700.0 875.0M692.8 878.0L696.7 881.9M689.8 879.2L689.8 885.2M686.8 878.0L683.0 881.9M685.6 875.0L679.6 875.0M686.8 872.0L683.0 868.2M689.8 870.8L689.8 864.8M692.8 872.0L696.7 868.2" stroke="#484848" stroke-width="2.0" stroke-linecap="round" fill="none"/>
<path d="M700.4 877.4L706.4 877.4M699.2 880.4L703.1 884.3M696.2 881.6L696.2 887.6M693.3 880.4L689.4 884.3M692.0 877.4L686.0 877.4M693.3 874.5L689.4 870.6M696.2 873.2L696.2 867.2M699.2 874.5L703.1 870.6" stroke="#484848" stroke-width="2.0" stroke-linecap="round" fill="none"/>
<path d="M706.8 886.0L712.8 886.0M705.6 889.0L709.5 892.8M702.6 890.2L702.6 896.2M699.7 889.0L695.8 892.8M698.4 886.0L692.4 886.0M699.7 883.0L695.8 879.1M702.6 881.8L702.6 875.8M705.6 883.0L709.5 879.1" stroke="#484848" stroke-width="2.0" stroke-linecap="round" fill="none"/>
<path d="M713.2 881.8L719.2 881.8M712.0 884.7L715.9 888.6M709.0 886.0L709.0 892.0M706.1 884.7L702.2 888.6M704.8 881.8L698.8 881.8M706.1 878.8L702.2 874.9M709.0 877.6L709.0 871.6M712.0 878.8L715.9 874.9" stroke="#484848" stroke-width="2.0" stroke-linecap="round" fill="none"/>
<path d="M719.7 887.8L725.7 887.8M718.4 890.8L722.3 894.7M715.5 892.0L715.5 898.0M712.5 890.8L708.6 894.7M711.2 887.8L705.2 887.8M712.5 884.9L708.6 881.0M715.5 883.6L715.5 877.6M718.4 884.9L722.3 881.0" stroke="#484848" stroke-width="2.0" stroke-linecap="round" fill="none"/>
<path d="M726.1 895.7L732.1 895.7M724.8 898.7L728.7 902.6M721.9 899.9L721.9 905.9M718.9 898.7L715.0 902.6M717.7 895.7L711.7 895.7M718.9 892.7L715.0 888.9M721.9 891.5L721.9 885.5M724.8 892.7L728.7 888.9" stroke="#484848" stroke-width="2.0" stroke-linecap="round" fill="none"/>
<path d="M732.5 891.2L738.5 891.2M731.2 894.1L735.1 898.0M728.3 895.4L728.3 901.4M725.3 894.1L721.4 898.0M724.1 891.2L718.1 891.2M725.3 888.2L721.4 884.3M728.3 887.0L728.3 881.0M731.2 888.2L735.1 884.3" stroke="#484848" stroke-width="2.0" stroke-linecap="round" fill="none"/>
<path d="M738.9 896.9L744.9 896.9M737.6 899.9L741.5 903.8M734.7 901.1L734.7 907.1M731.7 899.9L727.8 903.8M730.5 896.9L724.5 896.9M731.7 893.9L727.8 890.1M734.7 892.7L734.7 886.7M737.6 893.9L741.5 890.1" stroke="#484848" stroke-width="2.0" stroke-linecap="round" fill="none"/>
<path d="M745.3 901.2L751.3 901.2M744.1 904.2L747.9 908.1M741.1 905.4L741.1 911.4M738.1 904.2L734.2 908.1M736.9 901.2L730.9 901.2M738.1 898.2L734.2 894.4M741.1 897.0L741.1 891.0M744.1 898.2L747.9 894.4" stroke="#484848" stroke-width="2.0" stroke-linecap="round" fill="none"/>
<path d="M751.7 903.5L757.7 903.5M750.5 906.4L754.4 910.3M747.5 907.7L747.5 913.7M744.5 906.4L740.6 910.3M743.3 903.5L737.3 903.5M744.5 900.5L740.6 896.6M747.5 899.3L747.5 893.3M750.5 900.5L754.4 896.6" stroke="#484848" stroke-width="2.0" stroke-linecap="round" fill="none"/>
<path d="M758.1 895.7L764.1 895.7M756.9 898.7L760.8 902.5M753.9 899.9L753.9 905.9M750.9 898.7L747.1 902.5M749.7 895.7L743.7 895.7M750.9 892.7L747.1 888.8M753.9 891.5L753.9 885.5M756.9 892.7L760.8 888.8" stroke="#484848" stroke-width="2.0" stroke-linecap="round" fill="none"/>
<path d="M764.5 908.2L770.5 908.2M763.3 911.2L767.2 915.1M760.3 912.4L760.3 918.4M757.4 911.2L753.5 915.1M756.1 908.2L750.1 908.2M757.4 905.3L753.5 901.4M760.3 904.0L760.3 898.0M763.3 905.3L767.2 901.4" stroke="#484848" stroke-width="2.0" stroke-linecap="round" fill="none"/>
<path d="M770.9 922.1L776.9 922.1M769.7 925.0L773.6 928.9M766.7 926.3L766.7 932.3M763.8 925.0L759.9 928.9M762.5 922.1L756.5 922.1M763.8 919.1L759.9 915.2M766.7 917.9L766.7 911.9M769.7 919.1L773.6 915.2" stroke="#484848" stroke-width="2.0" stroke-linecap="round" fill="none"/>
<path d="M777.3 897.5L783.3 897.5M776.1 900.4L780.0 904.3M773.1 901.7L773.1 907.7M770.2 900.4L766.3 904.3M768.9 897.5L762.9 897.5M770.2 894.5L766.3 890.6M773.1 893.3L773.1 887.3M776.1 894.5L780.0 890.6" stroke="#484848" stroke-width="2.0" stroke-linecap="round" fill="none"/>
<path d="M783.8 923.5L789.8 923.5M782.5 926.5L786.4 930.3M779.6 927.7L779.6 933.7M776.6 926.5L772.7 930.3M775.4 923.5L769.4 923.5M776.6 920.5L772.7 916.6M779.6 919.3L779.6 913.3M782.5 920.5L786.4 916.6" stroke="#484848" stroke-width="2.0" stroke-linecap="round" fill="none"/>
<path d="M790.2 919.0L796.2 919.0M788.9 922.0L792.8 925.8M786.0 923.2L786.0 929.2M783.0 922.0L779.1 925.8M781.8 919.0L775.8 919.0M783.0 916.0L779.1 912.1M786.0 914.8L786.0 908.8M788.9 916.0L792.8 912.1" stroke="#484848" stroke-width="2.0" stroke-linecap="round" fill="none"/>
<path d="M796.6 913.8L802.6 913.8M795.3 916.7L799.2 920.6M792.4 918.0L792.4 924.0M789.4 916.7L785.5 920.6M788.2 913.8L782.2 913.8M789.4 910.8L785.5 906.9M792.4 909.6L792.4 903.6M795.3 910.8L799.2 906.9" stroke="#484848" stroke-width="2.0" stroke-linecap="round" fill="none"/>
<path d="M803.0 947.9L809.0 947.9M801.7 950.8L805.6 954.7M798.8 952.1L798.8 958.1M795.8 950.8L791.9 954.7M794.6 947.9L788.6 947.9M795.8 944.9L791.9 941.0M798.8 943.7L798.8 937.7M801.7 944.9L805.6 941.0" stroke="#484848" stroke-width="2.0" stroke-linecap="round" fill="none"/>
<path d="M809.4 937.2L815.4 937.2M808.2 940.1L812.0 944.0M805.2 941.4L805.2 947.4M802.2 940.1L798.3 944.0M801.0 937.2L795.0 937.2M802.2 934.2L798.3 930.3M805.2 933.0L805.2 927.0M808.2 934.2L812.0 930.3" stroke="#484848" stroke-width="2.0" stroke-linecap="round" fill="none"/>
<path d="M815.8 915.6L821.8 915.6M814.6 918.6L818.5 922.5M811.6 919.8L811.6 925.8M808.6 918.6L804.7 922.5M807.4 915.6L801.4 915.6M808.6 912.7L804.7 908.8M811.6 911.4L811.6 905.4M814.6 912.7L818.5 908.8" stroke="#484848" stroke-width="2.0" stroke-linecap="round" fill="none"/>
<path d="M822.2 935.1L828.2 935.1M821.0 938.1L824.9 942.0M818.0 939.3L818.0 945.3M815.0 938.1L811.2 942.0M813.8 935.1L807.8 935.1M815.0 932.2L811.2 928.3M818.0 930.9L818.0 924.9M821.0 932.2L824.9 928.3" stroke="#484848" stroke-width="2.0" stroke-linecap="round" fill="none"/>
<path d="M828.6 944.9L834.6 944.9M827.4 947.8L831.3 951.7M824.4 949.1L824.4 955.1M821.5 947.8L817.6 951.7M820.2 944.9L814.2 944.9M821.5 941.9L817.6 938.0M824.4 940.7L824.4 934.7M827.4 941.9L831.3 938.0" stroke="#484848" stroke-width="2.0" stroke-linecap="round" fill="none"/>
<path d="M835.0 936.5L841.0 936.5M833.8 939.4L837.7 943.3M830.8 940.7L830.8 946.7M827.9 939.4L824.0 943.3M826.6 936.5L820.6 936.5M827.9 933.5L824.0 929.6M830.8 932.3L830.8 926.3M833.8 933.5L837.7 929.6" stroke="#484848" stroke-width="2.0" stroke-linecap="round" fill="none"/>
<path d="M841.4 951.8L847.4 951.8M840.2 954.7L844.1 958.6M837.2 956.0L837.2 962.0M834.3 954.7L830.4 958.6M833.0 951.8L827.0 951.8M834.3 948.8L830.4 944.9M837.2 947.6L837.2 941.6M840.2 948.8L844.1 944.9" stroke="#484848" stroke-width="2.0" stroke-linecap="round" fill="none"/>
<path d="M847.9 942.6L853.9 942.6M846.6 945.6L850.5 949.5M843.7 946.8L843.7 952.8M840.7 945.6L836.8 949.5M839.5 942.6L833.5 942.6M840.7 939.7L836.8 935.8M843.7 938.4L843.7 932.4M846.6 939.7L850.5 935.8" stroke="#484848" stroke-width="2.0" stroke-linecap="round" fill="none"/>
<path d="M854.3 956.8L860.3 956.8M853.0 959.7L856.9 963.6M850.1 961.0L850.1 967.0M847.1 959.7L843.2 963.6M845.9 956.8L839.9 956.8M847.1 953.8L843.2 949.9M850.1 952.6L850.1 946.6M853.0 953.8L856.9 949.9" stroke="#484848" stroke-width="2.0" stroke-linecap="round" fill="none"/>
<path d="M860.7 972.6L866.7 972.6M859.4 975.5L863.3 979.4M856.5 976.8L856.5 982.8M853.5 975.5L849.6 979.4M852.3 972.6L846.3 972.6M853.5 969.6L849.6 965.7M856.5 968.4L856.5 962.4M859.4 969.6L863.3 965.7" stroke="#484848" stroke-width="2.0" stroke-linecap="round" fill="none"/>
<path d="M867.1 939.6L873.1 939.6M865.8 942.6L869.7 946.5M862.9 943.8L862.9 949.8M859.9 942.6L856.0 946.5M858.7 939.6L852.7 939.6M859.9 936.7L856.0 932.8M862.9 935.4L862.9 929.4M865.8 936.7L869.7 932.8" stroke="#484848" stroke-width="2.0" stroke-linecap="round" fill="none"/>
<path d="M873.5 958.0L879.5 958.0M872.3 961.0L876.1 964.9M869.3 962.2L869.3 968.2M866.3 961.0L862.4 964.9M865.1 958.0L859.1 958.0M866.3 955.0L862.4 951.1M869.3 953.8L869.3 947.8M872.3 955.0L876.1 951.1" stroke="#484848" stroke-width="2.0" stroke-linecap="round" fill="none"/>
<path d="M879.9 949.1L885.9 949.1M878.7 952.1L882.6 956.0M875.7 953.3L875.7 959.3M872.7 952.1L868.8 956.0M871.5 949.1L865.5 949.1M872.7 946.2L868.8 942.3M875.7 944.9L875.7 938.9M878.7 946.2L882.6 942.3" stroke="#484848" stroke-width="2.0" stroke-linecap="round" fill="none"/>
<path d="M886.3 963.5L892.3 963.5M885.1 966.5L889.0 970.4M882.1 967.7L882.1 973.7M879.1 966.5L875.3 970.4M877.9 963.5L871.9 963.5M879.1 960.6L875.3 956.7M882.1 959.3L882.1 953.3M885.1 960.6L889.0 956.7" stroke="#484848" stroke-width="2.0" stroke-linecap="round" fill="none"/>
<path d="M892.7 941.6L898.7 941.6M891.5 944.6L895.4 948.5M888.5 945.8L888.5 951.8M885.6 944.6L881.7 948.5M884.3 941.6L878.3 941.6M885.6 938.7L881.7 934.8M888.5 937.4L888.5 931.4M891.5 938.7L895.4 934.8" stroke="#484848" stroke-width="2.0" stroke-linecap="round" fill="none"/>
<path d="M899.1 957.0L905.1 957.0M897.9 960.0L901.8 963.9M894.9 961.2L894.9 967.2M892.0 960.0L888.1 963.9M890.7 957.0L884.7 957.0M892.0 954.0L888.1 950.2M894.9 952.8L894.9 946.8M897.9 954.0L901.8 950.2" stroke="#484848" stroke-width="2.0" stroke-linecap="round" fill="none"/>
<path d="M905.5 968.6L911.5 968.6M904.3 971.6L908.2 975.4M901.3 972.8L901.3 978.8M898.4 971.6L894.5 975.4M897.1 968.6L891.1 968.6M898.4 965.6L894.5 961.7M901.3 964.4L901.3 958.4M904.3 965.6L908.2 961.7" stroke="#484848" stroke-width="2.0" stroke-linecap="round" fill="none"/>
<path d="M912.0 989.0L918.0 989.0M910.7 992.0L914.6 995.9M907.8 993.2L907.8 999.2M904.8 992.0L900.9 995.9M903.5 989.0L897.5 989.0M904.8 986.0L900.9 982.1M907.8 984.8L907.8 978.8M910.7 986.0L914.6 982.1" stroke="#484848" stroke-width="2.0" stroke-linecap="round" fill="none"/>
<path d="M518.1 780.7L526.7 780.7M518.1 780.7L524.7 787.3M518.1 780.7L518.1 788.3M518.1 780.7L511.5 787.3M518.1 780.7L509.5 780.7M518.1 780.7L511.5 774.1M518.1 780.7L518.1 773.1M518.1 780.7L524.7 774.1" stroke="#1a1a1a" stroke-width="1.45" stroke-linecap="round" fill="none"/><rect x="515.4" y="778.0" width="5.4" height="5.4" fill="#000"/>
<path d="M543.6 799.8L552.2 799.8M543.6 799.8L550.2 806.4M543.6 799.8L543.6 807.4M543.6 799.8L537.0 806.4M543.6 799.8L535.0 799.8M543.6 799.8L537.0 793.2M543.6 799.8L543.6 792.2M543.6 799.8L550.2 793.2" stroke="#1a1a1a" stroke-width="1.45" stroke-linecap="round" fill="none"/><rect x="540.9" y="797.1" width="5.4" height="5.4" fill="#000"/>
<path d="M593.5 833.6L602.1 833.6M593.5 833.6L600.1 840.2M593.5 833.6L593.5 841.2M593.5 833.6L586.9 840.2M593.5 833.6L584.9 833.6M593.5 833.6L586.9 827.0M593.5 833.6L593.5 826.0M593.5 833.6L600.1 827.0" stroke="#1a1a1a" stroke-width="1.45" stroke-linecap="round" fill="none"/><rect x="590.8" y="830.9" width="5.4" height="5.4" fill="#000"/>
<path d="M601.6 846.3L610.2 846.3M601.6 846.3L608.2 852.9M601.6 846.3L601.6 853.9M601.6 846.3L595.0 852.9M601.6 846.3L593.0 846.3M601.6 846.3L595.0 839.7M601.6 846.3L601.6 838.7M601.6 846.3L608.2 839.7" stroke="#1a1a1a" stroke-width="1.45" stroke-linecap="round" fill="none"/><rect x="598.9" y="843.6" width="5.4" height="5.4" fill="#000"/>
<path d="M608.0 830.1L616.6 830.1M608.0 830.1L614.6 836.7M608.0 830.1L608.0 837.7M608.0 830.1L601.4 836.7M608.0 830.1L599.4 830.1M608.0 830.1L601.4 823.5M608.0 830.1L608.0 822.5M608.0 830.1L614.6 823.5" stroke="#1a1a1a" stroke-width="1.45" stroke-linecap="round" fill="none"/><rect x="605.3" y="827.4" width="5.4" height="5.4" fill="#000"/>
<path d="M613.8 863.0L622.4 863.0M613.8 863.0L620.4 869.6M613.8 863.0L613.8 870.6M613.8 863.0L607.2 869.6M613.8 863.0L605.2 863.0M613.8 863.0L607.2 856.4M613.8 863.0L613.8 855.4M613.8 863.0L620.4 856.4" stroke="#1a1a1a" stroke-width="1.45" stroke-linecap="round" fill="none"/><rect x="611.1" y="860.3" width="5.4" height="5.4" fill="#000"/>
<path d="M640.4 850.2L649.0 850.2M640.4 850.2L647.0 856.8M640.4 850.2L640.4 857.8M640.4 850.2L633.8 856.8M640.4 850.2L631.8 850.2M640.4 850.2L633.8 843.6M640.4 850.2L640.4 842.6M640.4 850.2L647.0 843.6" stroke="#1a1a1a" stroke-width="1.45" stroke-linecap="round" fill="none"/><rect x="637.7" y="847.5" width="5.4" height="5.4" fill="#000"/>
<path d="M665.2 861.8L673.8 861.8M665.2 861.8L671.8 868.4M665.2 861.8L665.2 869.4M665.2 861.8L658.6 868.4M665.2 861.8L656.6 861.8M665.2 861.8L658.6 855.2M665.2 861.8L665.2 854.2M665.2 861.8L671.8 855.2" stroke="#1a1a1a" stroke-width="1.45" stroke-linecap="round" fill="none"/><rect x="662.5" y="859.1" width="5.4" height="5.4" fill="#000"/>
<path d="M679.1 859.5L687.7 859.5M679.1 859.5L685.7 866.1M679.1 859.5L679.1 867.1M679.1 859.5L672.5 866.1M679.1 859.5L670.5 859.5M679.1 859.5L672.5 852.9M679.1 859.5L679.1 851.9M679.1 859.5L685.7 852.9" stroke="#1a1a1a" stroke-width="1.45" stroke-linecap="round" fill="none"/><rect x="676.4" y="856.8" width="5.4" height="5.4" fill="#000"/>
<path d="M669.8 882.1L678.4 882.1M669.8 882.1L676.4 888.7M669.8 882.1L669.8 889.7M669.8 882.1L663.2 888.7M669.8 882.1L661.2 882.1M669.8 882.1L663.2 875.5M669.8 882.1L669.8 874.5M669.8 882.1L676.4 875.5" stroke="#1a1a1a" stroke-width="1.45" stroke-linecap="round" fill="none"/><rect x="667.1" y="879.4" width="5.4" height="5.4" fill="#000"/>
<path d="M696.5 875.8L705.1 875.8M696.5 875.8L703.1 882.4M696.5 875.8L696.5 883.4M696.5 875.8L689.9 882.4M696.5 875.8L687.9 875.8M696.5 875.8L689.9 869.2M696.5 875.8L696.5 868.2M696.5 875.8L703.1 869.2" stroke="#1a1a1a" stroke-width="1.45" stroke-linecap="round" fill="none"/><rect x="693.8" y="873.1" width="5.4" height="5.4" fill="#000"/>
<path d="M689.7 888.9L698.3 888.9M689.7 888.9L696.3 895.5M689.7 888.9L689.7 896.5M689.7 888.9L683.1 895.5M689.7 888.9L681.1 888.9M689.7 888.9L683.1 882.3M689.7 888.9L689.7 881.3M689.7 888.9L696.3 882.3" stroke="#1a1a1a" stroke-width="1.45" stroke-linecap="round" fill="none"/><rect x="687.0" y="886.2" width="5.4" height="5.4" fill="#000"/>
<path d="M702.8 891.9L711.4 891.9M702.8 891.9L709.4 898.5M702.8 891.9L702.8 899.5M702.8 891.9L696.2 898.5M702.8 891.9L694.2 891.9M702.8 891.9L696.2 885.3M702.8 891.9L702.8 884.3M702.8 891.9L709.4 885.3" stroke="#1a1a1a" stroke-width="1.45" stroke-linecap="round" fill="none"/><rect x="700.1" y="889.2" width="5.4" height="5.4" fill="#000"/>
<path d="M715.6 886.1L724.2 886.1M715.6 886.1L722.2 892.7M715.6 886.1L715.6 893.7M715.6 886.1L709.0 892.7M715.6 886.1L707.0 886.1M715.6 886.1L709.0 879.5M715.6 886.1L715.6 878.5M715.6 886.1L722.2 879.5" stroke="#1a1a1a" stroke-width="1.45" stroke-linecap="round" fill="none"/><rect x="712.9" y="883.4" width="5.4" height="5.4" fill="#000"/>
<path d="M729.5 882.6L738.1 882.6M729.5 882.6L736.1 889.2M729.5 882.6L729.5 890.2M729.5 882.6L722.9 889.2M729.5 882.6L720.9 882.6M729.5 882.6L722.9 876.0M729.5 882.6L729.5 875.0M729.5 882.6L736.1 876.0" stroke="#1a1a1a" stroke-width="1.45" stroke-linecap="round" fill="none"/><rect x="726.8" y="879.9" width="5.4" height="5.4" fill="#000"/>
<path d="M723.2 909.2L731.8 909.2M723.2 909.2L729.8 915.8M723.2 909.2L723.2 916.8M723.2 909.2L716.6 915.8M723.2 909.2L714.6 909.2M723.2 909.2L716.6 902.6M723.2 909.2L723.2 901.6M723.2 909.2L729.8 902.6" stroke="#1a1a1a" stroke-width="1.45" stroke-linecap="round" fill="none"/><rect x="720.5" y="906.5" width="5.4" height="5.4" fill="#000"/>
<path d="M735.9 896.5L744.5 896.5M735.9 896.5L742.5 903.1M735.9 896.5L735.9 904.1M735.9 896.5L729.3 903.1M735.9 896.5L727.3 896.5M735.9 896.5L729.3 889.9M735.9 896.5L735.9 888.9M735.9 896.5L742.5 889.9" stroke="#1a1a1a" stroke-width="1.45" stroke-linecap="round" fill="none"/><rect x="733.2" y="893.8" width="5.4" height="5.4" fill="#000"/>
<path d="M742.3 917.9L750.9 917.9M742.3 917.9L748.9 924.5M742.3 917.9L742.3 925.5M742.3 917.9L735.7 924.5M742.3 917.9L733.7 917.9M742.3 917.9L735.7 911.3M742.3 917.9L742.3 910.3M742.3 917.9L748.9 911.3" stroke="#1a1a1a" stroke-width="1.45" stroke-linecap="round" fill="none"/><rect x="739.6" y="915.2" width="5.4" height="5.4" fill="#000"/>
<path d="M749.0 887.9L757.6 887.9M749.0 887.9L755.6 894.5M749.0 887.9L749.0 895.5M749.0 887.9L742.4 894.5M749.0 887.9L740.4 887.9M749.0 887.9L742.4 881.3M749.0 887.9L749.0 880.3M749.0 887.9L755.6 881.3" stroke="#1a1a1a" stroke-width="1.45" stroke-linecap="round" fill="none"/><rect x="746.3" y="885.2" width="5.4" height="5.4" fill="#000"/>
<path d="M755.0 946.8L763.6 946.8M755.0 946.8L761.6 953.4M755.0 946.8L755.0 954.4M755.0 946.8L748.4 953.4M755.0 946.8L746.4 946.8M755.0 946.8L748.4 940.2M755.0 946.8L755.0 939.2M755.0 946.8L761.6 940.2" stroke="#1a1a1a" stroke-width="1.45" stroke-linecap="round" fill="none"/><rect x="752.3" y="944.1" width="5.4" height="5.4" fill="#000"/>
<path d="M761.4 912.8L770.0 912.8M761.4 912.8L768.0 919.4M761.4 912.8L761.4 920.4M761.4 912.8L754.8 919.4M761.4 912.8L752.8 912.8M761.4 912.8L754.8 906.2M761.4 912.8L761.4 905.2M761.4 912.8L768.0 906.2" stroke="#1a1a1a" stroke-width="1.45" stroke-linecap="round" fill="none"/><rect x="758.7" y="910.1" width="5.4" height="5.4" fill="#000"/>
<path d="M769.0 898.8L777.6 898.8M769.0 898.8L775.6 905.4M769.0 898.8L769.0 906.4M769.0 898.8L762.4 905.4M769.0 898.8L760.4 898.8M769.0 898.8L762.4 892.2M769.0 898.8L769.0 891.2M769.0 898.8L775.6 892.2" stroke="#1a1a1a" stroke-width="1.45" stroke-linecap="round" fill="none"/><rect x="766.3" y="896.1" width="5.4" height="5.4" fill="#000"/>
<path d="M781.7 914.1L790.3 914.1M781.7 914.1L788.3 920.7M781.7 914.1L781.7 921.7M781.7 914.1L775.1 920.7M781.7 914.1L773.1 914.1M781.7 914.1L775.1 907.5M781.7 914.1L781.7 906.5M781.7 914.1L788.3 907.5" stroke="#1a1a1a" stroke-width="1.45" stroke-linecap="round" fill="none"/><rect x="779.0" y="911.4" width="5.4" height="5.4" fill="#000"/>
<path d="M774.1 928.1L782.7 928.1M774.1 928.1L780.7 934.7M774.1 928.1L774.1 935.7M774.1 928.1L767.5 934.7M774.1 928.1L765.5 928.1M774.1 928.1L767.5 921.5M774.1 928.1L774.1 920.5M774.1 928.1L780.7 921.5" stroke="#1a1a1a" stroke-width="1.45" stroke-linecap="round" fill="none"/><rect x="771.4" y="925.4" width="5.4" height="5.4" fill="#000"/>
<path d="M788.1 892.5L796.7 892.5M788.1 892.5L794.7 899.1M788.1 892.5L788.1 900.1M788.1 892.5L781.5 899.1M788.1 892.5L779.5 892.5M788.1 892.5L781.5 885.9M788.1 892.5L788.1 884.9M788.1 892.5L794.7 885.9" stroke="#1a1a1a" stroke-width="1.45" stroke-linecap="round" fill="none"/><rect x="785.4" y="889.8" width="5.4" height="5.4" fill="#000"/>
<path d="M800.8 943.3L809.4 943.3M800.8 943.3L807.4 949.9M800.8 943.3L800.8 950.9M800.8 943.3L794.2 949.9M800.8 943.3L792.2 943.3M800.8 943.3L794.2 936.7M800.8 943.3L800.8 935.7M800.8 943.3L807.4 936.7" stroke="#1a1a1a" stroke-width="1.45" stroke-linecap="round" fill="none"/><rect x="798.1" y="940.6" width="5.4" height="5.4" fill="#000"/>
<path d="M807.1 921.7L815.7 921.7M807.1 921.7L813.7 928.3M807.1 921.7L807.1 929.3M807.1 921.7L800.5 928.3M807.1 921.7L798.5 921.7M807.1 921.7L800.5 915.1M807.1 921.7L807.1 914.1M807.1 921.7L813.7 915.1" stroke="#1a1a1a" stroke-width="1.45" stroke-linecap="round" fill="none"/><rect x="804.4" y="919.0" width="5.4" height="5.4" fill="#000"/>
<path d="M814.8 939.5L823.4 939.5M814.8 939.5L821.4 946.1M814.8 939.5L814.8 947.1M814.8 939.5L808.2 946.1M814.8 939.5L806.2 939.5M814.8 939.5L808.2 932.9M814.8 939.5L814.8 931.9M814.8 939.5L821.4 932.9" stroke="#1a1a1a" stroke-width="1.45" stroke-linecap="round" fill="none"/><rect x="812.1" y="936.8" width="5.4" height="5.4" fill="#000"/>
<path d="M831.3 973.8L839.9 973.8M831.3 973.8L837.9 980.4M831.3 973.8L831.3 981.4M831.3 973.8L824.7 980.4M831.3 973.8L822.7 973.8M831.3 973.8L824.7 967.2M831.3 973.8L831.3 966.2M831.3 973.8L837.9 967.2" stroke="#1a1a1a" stroke-width="1.45" stroke-linecap="round" fill="none"/><rect x="828.6" y="971.1" width="5.4" height="5.4" fill="#000"/>
<path d="M838.9 935.7L847.5 935.7M838.9 935.7L845.5 942.3M838.9 935.7L838.9 943.3M838.9 935.7L832.3 942.3M838.9 935.7L830.3 935.7M838.9 935.7L832.3 929.1M838.9 935.7L838.9 928.1M838.9 935.7L845.5 929.1" stroke="#1a1a1a" stroke-width="1.45" stroke-linecap="round" fill="none"/><rect x="836.2" y="933.0" width="5.4" height="5.4" fill="#000"/>
<path d="M850.4 961.1L859.0 961.1M850.4 961.1L857.0 967.7M850.4 961.1L850.4 968.7M850.4 961.1L843.8 967.7M850.4 961.1L841.8 961.1M850.4 961.1L843.8 954.5M850.4 961.1L850.4 953.5M850.4 961.1L857.0 954.5" stroke="#1a1a1a" stroke-width="1.45" stroke-linecap="round" fill="none"/><rect x="847.7" y="958.4" width="5.4" height="5.4" fill="#000"/>
<path d="M858.0 906.4L866.6 906.4M858.0 906.4L864.6 913.0M858.0 906.4L858.0 914.0M858.0 906.4L851.4 913.0M858.0 906.4L849.4 906.4M858.0 906.4L851.4 899.8M858.0 906.4L858.0 898.8M858.0 906.4L864.6 899.8" stroke="#1a1a1a" stroke-width="1.45" stroke-linecap="round" fill="none"/><rect x="855.3" y="903.7" width="5.4" height="5.4" fill="#000"/>
<path d="M868.2 944.6L876.8 944.6M868.2 944.6L874.8 951.2M868.2 944.6L868.2 952.2M868.2 944.6L861.6 951.2M868.2 944.6L859.6 944.6M868.2 944.6L861.6 938.0M868.2 944.6L868.2 937.0M868.2 944.6L874.8 938.0" stroke="#1a1a1a" stroke-width="1.45" stroke-linecap="round" fill="none"/><rect x="865.5" y="941.9" width="5.4" height="5.4" fill="#000"/>
<path d="M887.2 987.8L895.8 987.8M887.2 987.8L893.8 994.4M887.2 987.8L887.2 995.4M887.2 987.8L880.6 994.4M887.2 987.8L878.6 987.8M887.2 987.8L880.6 981.2M887.2 987.8L887.2 980.2M887.2 987.8L893.8 981.2" stroke="#1a1a1a" stroke-width="1.45" stroke-linecap="round" fill="none"/><rect x="884.5" y="985.1" width="5.4" height="5.4" fill="#000"/>
<path d="M894.8 929.3L903.4 929.3M894.8 929.3L901.4 935.9M894.8 929.3L894.8 936.9M894.8 929.3L888.2 935.9M894.8 929.3L886.2 929.3M894.8 929.3L888.2 922.7M894.8 929.3L894.8 921.7M894.8 929.3L901.4 922.7" stroke="#1a1a1a" stroke-width="1.45" stroke-linecap="round" fill="none"/><rect x="892.1" y="926.6" width="5.4" height="5.4" fill="#000"/>
<path d="M903.7 987.8L912.3 987.8M903.7 987.8L910.3 994.4M903.7 987.8L903.7 995.4M903.7 987.8L897.1 994.4M903.7 987.8L895.1 987.8M903.7 987.8L897.1 981.2M903.7 987.8L903.7 980.2M903.7 987.8L910.3 981.2" stroke="#1a1a1a" stroke-width="1.45" stroke-linecap="round" fill="none"/><rect x="901.0" y="985.1" width="5.4" height="5.4" fill="#000"/>
<circle cx="170.6" cy="92.5" r="7.95" fill="#fff" stroke="#000" stroke-width="2.7"/>
<circle cx="177.0" cy="160.3" r="7.95" fill="#fff" stroke="#000" stroke-width="2.7"/>
<circle cx="183.4" cy="215.1" r="7.95" fill="#fff" stroke="#000" stroke-width="2.7"/>
<circle cx="189.8" cy="259.1" r="7.95" fill="#fff" stroke="#000" stroke-width="2.7"/>
<circle cx="196.2" cy="296.3" r="7.95" fill="#fff" stroke="#000" stroke-width="2.7"/>
<circle cx="202.6" cy="328.8" r="7.95" fill="#fff" stroke="#000" stroke-width="2.7"/>
<circle cx="209.1" cy="354.6" r="7.95" fill="#fff" stroke="#000" stroke-width="2.7"/>
<circle cx="215.5" cy="376.6" r="7.95" fill="#fff" stroke="#000" stroke-width="2.7"/>
<circle cx="221.9" cy="397.0" r="7.95" fill="#fff" stroke="#000" stroke-width="2.7"/>
<circle cx="228.3" cy="414.3" r="7.95" fill="#fff" stroke="#000" stroke-width="2.7"/>
<circle cx="234.7" cy="429.5" r="7.95" fill="#fff" stroke="#000" stroke-width="2.7"/>
<circle cx="241.1" cy="445.0" r="7.95" fill="#fff" stroke="#000" stroke-width="2.7"/>
<circle cx="247.5" cy="458.7" r="7.95" fill="#fff" stroke="#000" stroke-width="2.7"/>
<circle cx="253.9" cy="471.2" r="7.95" fill="#fff" stroke="#000" stroke-width="2.7"/>
<circle cx="260.3" cy="482.0" r="7.95" fill="#fff" stroke="#000" stroke-width="2.7"/>
<circle cx="266.8" cy="492.1" r="7.95" fill="#fff" stroke="#000" stroke-width="2.7"/>
<circle cx="273.2" cy="501.9" r="7.95" fill="#fff" stroke="#000" stroke-width="2.7"/>
<circle cx="279.6" cy="510.2" r="7.95" fill="#fff" stroke="#000" stroke-width="2.7"/>
<circle cx="286.0" cy="517.6" r="7.95" fill="#fff" stroke="#000" stroke-width="2.7"/>
<circle cx="292.4" cy="525.6" r="7.95" fill="#fff" stroke="#000" stroke-width="2.7"/>
<circle cx="298.8" cy="532.3" r="7.95" fill="#fff" stroke="#000" stroke-width="2.7"/>
<circle cx="305.2" cy="537.9" r="7.95" fill="#fff" stroke="#000" stroke-width="2.7"/>
<circle cx="311.6" cy="543.3" r="7.95" fill="#fff" stroke="#000" stroke-width="2.7"/>
<circle cx="318.0" cy="548.1" r="7.95" fill="#fff" stroke="#000" stroke-width="2.7"/>
<circle cx="324.4" cy="552.1" r="7.95" fill="#fff" stroke="#000" stroke-width="2.7"/>
<circle cx="330.9" cy="555.3" r="7.95" fill="#fff" stroke="#000" stroke-width="2.7"/>
<circle cx="337.3" cy="558.2" r="7.95" fill="#fff" stroke="#000" stroke-width="2.7"/>
<circle cx="343.7" cy="560.7" r="7.95" fill="#fff" stroke="#000" stroke-width="2.7"/>
<circle cx="350.1" cy="563.0" r="7.95" fill="#fff" stroke="#000" stroke-width="2.7"/>
<circle cx="356.5" cy="565.0" r="7.95" fill="#fff" stroke="#000" stroke-width="2.7"/>
<circle cx="362.9" cy="566.8" r="7.95" fill="#fff" stroke="#000" stroke-width="2.7"/>
<circle cx="369.3" cy="568.3" r="7.95" fill="#fff" stroke="#000" stroke-width="2.7"/>
<circle cx="375.7" cy="569.6" r="7.95" fill="#fff" stroke="#000" stroke-width="2.7"/>
<circle cx="382.1" cy="570.8" r="7.95" fill="#fff" stroke="#000" stroke-width="2.7"/>
<circle cx="388.5" cy="572.0" r="7.95" fill="#fff" stroke="#000" stroke-width="2.7"/>
<circle cx="394.9" cy="573.2" r="7.95" fill="#fff" stroke="#000" stroke-width="2.7"/>
<circle cx="401.4" cy="574.5" r="7.95" fill="#fff" stroke="#000" stroke-width="2.7"/>
<circle cx="407.8" cy="575.8" r="7.95" fill="#fff" stroke="#000" stroke-width="2.7"/>
<circle cx="414.2" cy="577.2" r="7.95" fill="#fff" stroke="#000" stroke-width="2.7"/>
<circle cx="420.6" cy="578.8" r="7.95" fill="#fff" stroke="#000" stroke-width="2.7"/>
<circle cx="427.0" cy="580.5" r="7.95" fill="#fff" stroke="#000" stroke-width="2.7"/>
<circle cx="433.4" cy="582.3" r="7.95" fill="#fff" stroke="#000" stroke-width="2.7"/>
<circle cx="439.8" cy="584.3" r="7.95" fill="#fff" stroke="#000" stroke-width="2.7"/>
<circle cx="446.2" cy="586.7" r="7.95" fill="#fff" stroke="#000" stroke-width="2.7"/>
<circle cx="452.6" cy="589.6" r="7.95" fill="#fff" stroke="#000" stroke-width="2.7"/>
<circle cx="459.0" cy="594.0" r="7.95" fill="#fff" stroke="#000" stroke-width="2.7"/>
<circle cx="465.5" cy="598.5" r="7.95" fill="#fff" stroke="#000" stroke-width="2.7"/>
<circle cx="471.9" cy="602.5" r="7.95" fill="#fff" stroke="#000" stroke-width="2.7"/>
<circle cx="478.3" cy="606.4" r="7.95" fill="#fff" stroke="#000" stroke-width="2.7"/>
<circle cx="484.7" cy="610.1" r="7.95" fill="#fff" stroke="#000" stroke-width="2.7"/>
<circle cx="491.1" cy="613.8" r="7.95" fill="#fff" stroke="#000" stroke-width="2.7"/>
<circle cx="497.5" cy="617.4" r="7.95" fill="#fff" stroke="#000" stroke-width="2.7"/>
<circle cx="503.9" cy="620.9" r="7.95" fill="#fff" stroke="#000" stroke-width="2.7"/>
<circle cx="510.3" cy="624.4" r="7.95" fill="#fff" stroke="#000" stroke-width="2.7"/>
<circle cx="516.7" cy="627.9" r="7.95" fill="#fff" stroke="#000" stroke-width="2.7"/>
<circle cx="523.1" cy="631.3" r="7.95" fill="#fff" stroke="#000" stroke-width="2.7"/>
<circle cx="529.6" cy="634.6" r="7.95" fill="#fff" stroke="#000" stroke-width="2.7"/>
<circle cx="536.0" cy="638.2" r="7.95" fill="#fff" stroke="#000" stroke-width="2.7"/>
<circle cx="542.4" cy="642.2" r="7.95" fill="#fff" stroke="#000" stroke-width="2.7"/>
<circle cx="548.8" cy="647.2" r="7.95" fill="#fff" stroke="#000" stroke-width="2.7"/>
<circle cx="555.2" cy="652.8" r="7.95" fill="#fff" stroke="#000" stroke-width="2.7"/>
<circle cx="561.6" cy="657.6" r="7.95" fill="#fff" stroke="#000" stroke-width="2.7"/>
<circle cx="568.0" cy="661.6" r="7.95" fill="#fff" stroke="#000" stroke-width="2.7"/>
<circle cx="574.4" cy="665.3" r="7.95" fill="#fff" stroke="#000" stroke-width="2.7"/>
<circle cx="580.8" cy="668.9" r="7.95" fill="#fff" stroke="#000" stroke-width="2.7"/>
<circle cx="587.2" cy="672.6" r="7.95" fill="#fff" stroke="#000" stroke-width="2.7"/>
<circle cx="593.7" cy="676.3" r="7.95" fill="#fff" stroke="#000" stroke-width="2.7"/>
<circle cx="600.1" cy="675.1" r="7.95" fill="#fff" stroke="#000" stroke-width="2.7"/>
<circle cx="606.5" cy="682.7" r="7.95" fill="#fff" stroke="#000" stroke-width="2.7"/>
<circle cx="612.9" cy="688.7" r="7.95" fill="#fff" stroke="#000" stroke-width="2.7"/>
<circle cx="619.3" cy="689.8" r="7.95" fill="#fff" stroke="#000" stroke-width="2.7"/>
<circle cx="625.7" cy="690.8" r="7.95" fill="#fff" stroke="#000" stroke-width="2.7"/>
<circle cx="632.1" cy="694.0" r="7.95" fill="#fff" stroke="#000" stroke-width="2.7"/>
<circle cx="638.5" cy="699.9" r="7.95" fill="#fff" stroke="#000" stroke-width="2.7"/>
<circle cx="644.9" cy="701.2" r="7.95" fill="#fff" stroke="#000" stroke-width="2.7"/>
<circle cx="651.4" cy="703.8" r="7.95" fill="#fff" stroke="#000" stroke-width="2.7"/>
<circle cx="657.8" cy="706.3" r="7.95" fill="#fff" stroke="#000" stroke-width="2.7"/>
<circle cx="664.2" cy="709.0" r="7.95" fill="#fff" stroke="#000" stroke-width="2.7"/>
<circle cx="670.6" cy="712.6" r="7.95" fill="#fff" stroke="#000" stroke-width="2.7"/>
<circle cx="677.0" cy="714.7" r="7.95" fill="#fff" stroke="#000" stroke-width="2.7"/>
<circle cx="683.4" cy="716.5" r="7.95" fill="#fff" stroke="#000" stroke-width="2.7"/>
<circle cx="689.8" cy="717.1" r="7.95" fill="#fff" stroke="#000" stroke-width="2.7"/>
<circle cx="696.2" cy="722.0" r="7.95" fill="#fff" stroke="#000" stroke-width="2.7"/>
<circle cx="702.6" cy="722.8" r="7.95" fill="#fff" stroke="#000" stroke-width="2.7"/>
<circle cx="709.0" cy="728.1" r="7.95" fill="#fff" stroke="#000" stroke-width="2.7"/>
<circle cx="715.5" cy="727.1" r="7.95" fill="#fff" stroke="#000" stroke-width="2.7"/>
<circle cx="721.9" cy="731.3" r="7.95" fill="#fff" stroke="#000" stroke-width="2.7"/>
<circle cx="728.3" cy="734.0" r="7.95" fill="#fff" stroke="#000" stroke-width="2.7"/>
<circle cx="734.7" cy="734.6" r="7.95" fill="#fff" stroke="#000" stroke-width="2.7"/>
<circle cx="741.1" cy="741.8" r="7.95" fill="#fff" stroke="#000" stroke-width="2.7"/>
<circle cx="747.5" cy="744.4" r="7.95" fill="#fff" stroke="#000" stroke-width="2.7"/>
<circle cx="753.9" cy="744.7" r="7.95" fill="#fff" stroke="#000" stroke-width="2.7"/>
<circle cx="760.3" cy="749.9" r="7.95" fill="#fff" stroke="#000" stroke-width="2.7"/>
<circle cx="766.7" cy="752.6" r="7.95" fill="#fff" stroke="#000" stroke-width="2.7"/>
<circle cx="773.1" cy="751.0" r="7.95" fill="#fff" stroke="#000" stroke-width="2.7"/>
<circle cx="779.6" cy="757.9" r="7.95" fill="#fff" stroke="#000" stroke-width="2.7"/>
<circle cx="786.0" cy="759.9" r="7.95" fill="#fff" stroke="#000" stroke-width="2.7"/>
<circle cx="792.4" cy="762.6" r="7.95" fill="#fff" stroke="#000" stroke-width="2.7"/>
<circle cx="798.8" cy="763.5" r="7.95" fill="#fff" stroke="#000" stroke-width="2.7"/>
<circle cx="805.2" cy="767.6" r="7.95" fill="#fff" stroke="#000" stroke-width="2.7"/>
<circle cx="811.6" cy="770.6" r="7.95" fill="#fff" stroke="#000" stroke-width="2.7"/>
<circle cx="818.0" cy="775.5" r="7.95" fill="#fff" stroke="#000" stroke-width="2.7"/>
<circle cx="824.4" cy="777.2" r="7.95" fill="#fff" stroke="#000" stroke-width="2.7"/>
<circle cx="830.8" cy="779.5" r="7.95" fill="#fff" stroke="#000" stroke-width="2.7"/>
<circle cx="837.2" cy="784.8" r="7.95" fill="#fff" stroke="#000" stroke-width="2.7"/>
<circle cx="843.7" cy="784.6" r="7.95" fill="#fff" stroke="#000" stroke-width="2.7"/>
<circle cx="850.1" cy="787.6" r="7.95" fill="#fff" stroke="#000" stroke-width="2.7"/>
<circle cx="856.5" cy="788.2" r="7.95" fill="#fff" stroke="#000" stroke-width="2.7"/>
<circle cx="862.9" cy="795.9" r="7.95" fill="#fff" stroke="#000" stroke-width="2.7"/>
<circle cx="869.3" cy="797.6" r="7.95" fill="#fff" stroke="#000" stroke-width="2.7"/>
<circle cx="875.7" cy="800.1" r="7.95" fill="#fff" stroke="#000" stroke-width="2.7"/>
<circle cx="882.1" cy="802.2" r="7.95" fill="#fff" stroke="#000" stroke-width="2.7"/>
<circle cx="888.5" cy="803.9" r="7.95" fill="#fff" stroke="#000" stroke-width="2.7"/>
<circle cx="894.9" cy="805.5" r="7.95" fill="#fff" stroke="#000" stroke-width="2.7"/>
<circle cx="901.3" cy="819.7" r="7.95" fill="#fff" stroke="#000" stroke-width="2.7"/>
<circle cx="907.8" cy="806.3" r="7.95" fill="#fff" stroke="#000" stroke-width="2.7"/>
<g fill="#e3103f"><circle cx="446.6" cy="512.8" r="2.3"/><circle cx="446.6" cy="522.8" r="2.3"/><circle cx="446.6" cy="532.7" r="2.3"/><circle cx="446.6" cy="542.6" r="2.3"/><circle cx="446.6" cy="552.6" r="2.3"/><circle cx="446.6" cy="562.5" r="2.3"/><circle cx="446.6" cy="572.5" r="2.3"/><circle cx="446.6" cy="582.4" r="2.3"/><circle cx="446.6" cy="592.4" r="2.3"/><circle cx="446.6" cy="602.3" r="2.3"/><circle cx="446.6" cy="612.3" r="2.3"/><circle cx="446.6" cy="622.2" r="2.3"/><circle cx="446.6" cy="632.2" r="2.3"/><circle cx="446.6" cy="642.1" r="2.3"/><circle cx="446.6" cy="652.1" r="2.3"/><circle cx="446.6" cy="662.0" r="2.3"/><circle cx="446.6" cy="672.0" r="2.3"/><circle cx="446.6" cy="681.9" r="2.3"/><circle cx="446.6" cy="691.9" r="2.3"/><circle cx="446.6" cy="701.8" r="2.3"/><circle cx="446.6" cy="711.8" r="2.3"/><circle cx="446.6" cy="721.8" r="2.3"/><circle cx="446.6" cy="731.7" r="2.3"/><circle cx="446.6" cy="741.6" r="2.3"/><circle cx="446.6" cy="751.6" r="2.3"/><circle cx="446.6" cy="761.5" r="2.3"/><circle cx="446.6" cy="771.5" r="2.3"/><circle cx="446.6" cy="781.4" r="2.3"/><circle cx="446.6" cy="791.4" r="2.3"/><circle cx="446.6" cy="801.3" r="2.3"/><circle cx="446.6" cy="811.3" r="2.3"/><circle cx="446.6" cy="821.2" r="2.3"/><circle cx="446.6" cy="831.2" r="2.3"/></g>
<path d="M163.6 834.6H246.6M163.6 886.4H246.6M163.6 938.3H246.6" stroke="#888" stroke-width="1.6" stroke-dasharray="2 2"/>
<path d="M205.2 834.6L220.4 834.6M205.2 834.6L217.2 846.6M205.2 834.6L205.2 847.7M205.2 834.6L193.2 846.6M205.2 834.6L190.0 834.6M205.2 834.6L193.2 822.6M205.2 834.6L205.2 821.5M205.2 834.6L217.2 822.6" stroke="#222" stroke-width="3.0" stroke-linecap="round" fill="none"/><rect x="201.2" y="830.6" width="8.0" height="8.0" fill="#000"/>
<circle cx="205" cy="886.4" r="14.2" fill="#000"/>
<circle cx="205.5" cy="938.3" r="12.7" fill="#f4f4f4" stroke="#222" stroke-width="3.0"/>
<text x="265" y="849.2" font-family="Liberation Sans, sans-serif" font-size="44.5" fill="#111" stroke="#111" stroke-width="0.5">7.5 wt%</text>
<text x="265" y="900.3" font-family="Liberation Sans, sans-serif" font-size="44.5" fill="#111" stroke="#111" stroke-width="0.5">15 wt%</text>
<text x="265" y="952" font-family="Liberation Sans, sans-serif" font-size="44.5" fill="#111" stroke="#111" stroke-width="0.5">22.5 wt%</text>
<path d="M397.6 34.4V398.6H904.3V389.5" stroke="#303030" stroke-width="2.2" fill="none"/>
<path d="M397.6 34.4H416M397.6 104.6H416M397.6 174.8H416M397.6 244.9H416M397.6 315.1H416M397.6 385.3H416M411.8 398.6V389.5M567.1 398.6V389.5M658.0 398.6V389.5M722.5 398.6V389.5M772.5 398.6V389.5M813.3 398.6V389.5M847.9 398.6V389.5M877.8 398.6V389.5" stroke="#303030" stroke-width="2.2" fill="none"/>
<text x="380" y="47.6" font-family="Liberation Sans, sans-serif" font-size="34.5" text-anchor="end" fill="#111" stroke="#111" stroke-width="0.5">100</text>
<text x="380" y="117.8" font-family="Liberation Sans, sans-serif" font-size="34.5" text-anchor="end" fill="#111" stroke="#111" stroke-width="0.5">10</text>
<text x="380" y="188.0" font-family="Liberation Sans, sans-serif" font-size="34.5" text-anchor="end" fill="#111" stroke="#111" stroke-width="0.5">1</text>
<text x="380" y="258.1" font-family="Liberation Sans, sans-serif" font-size="34.5" text-anchor="end" fill="#111" stroke="#111" stroke-width="0.5">0.1</text>
<text x="380" y="328.3" font-family="Liberation Sans, sans-serif" font-size="34.5" text-anchor="end" fill="#111" stroke="#111" stroke-width="0.5">0.01</text>
<text x="380" y="398.5" font-family="Liberation Sans, sans-serif" font-size="34.5" text-anchor="end" fill="#111" stroke="#111" stroke-width="0.5">0.001</text>
<text x="409.5" y="457.6" font-family="Liberation Sans, sans-serif" font-size="34" text-anchor="middle" fill="#111" stroke="#111" stroke-width="0.5">0.1</text>
<text x="517" y="449.5" font-family="Liberation Sans, sans-serif" font-size="35" fill="#111" stroke="#111" stroke-width="0.5">2x10<tspan dy="-24" font-size="21">-1</tspan></text>
<text x="658.0" y="426" font-family="Liberation Sans, sans-serif" font-size="23.5" text-anchor="middle" fill="#111" stroke="#111" stroke-width="0.5">3</text>
<text x="722.5" y="426" font-family="Liberation Sans, sans-serif" font-size="23.5" text-anchor="middle" fill="#111" stroke="#111" stroke-width="0.5">4</text>
<text x="772.5" y="426" font-family="Liberation Sans, sans-serif" font-size="23.5" text-anchor="middle" fill="#111" stroke="#111" stroke-width="0.5">5</text>
<text x="813.3" y="426" font-family="Liberation Sans, sans-serif" font-size="23.5" text-anchor="middle" fill="#111" stroke="#111" stroke-width="0.5">6</text>
<text x="847.9" y="426" font-family="Liberation Sans, sans-serif" font-size="23.5" text-anchor="middle" fill="#111" stroke="#111" stroke-width="0.5">7</text>
<text x="877.8" y="426" font-family="Liberation Sans, sans-serif" font-size="23.5" text-anchor="middle" fill="#111" stroke="#111" stroke-width="0.5">8</text>
<text x="904.2" y="426" font-family="Liberation Sans, sans-serif" font-size="23.5" text-anchor="middle" fill="#111" stroke="#111" stroke-width="0.5">9</text>
<text x="559.5" y="494.5" font-family="Liberation Sans, sans-serif" font-size="35.5" fill="#111" stroke="#111" stroke-width="0.5">Q (nm<tspan dy="-22" font-size="21.5">-1</tspan><tspan dx="1.5" dy="22">)</tspan></text>
<text transform="translate(312.5 224.5) rotate(-90)" font-family="Liberation Sans, sans-serif" font-size="35" fill="#111" stroke="#111" stroke-width="0.5">I (a.u.)</text>
<path d="M420.9 35L904.2 231.8" stroke="#1cd4c6" stroke-width="4.2"/>
<path d="M412.4 153L841.3 384.8" stroke="#80d020" stroke-width="4.0"/>
<text x="883.3" y="204" font-family="Liberation Sans, sans-serif" font-size="24.5" fill="#4f8ca6">Q<tspan dy="-15.5" font-size="17" fill="#7f98ac">-3</tspan></text>
<text x="702.6" y="368.3" font-family="Liberation Sans, sans-serif" font-size="25.5" fill="#3d8a4c">Q<tspan dy="-15.5" font-size="17" fill="#5f9068">-4</tspan></text>
<polyline points="417.3,124.1 466.2,153.5 506.4,178.1 540.4,196.5 569.9,212.8 596.0,227.8 619.4,239.6 640.5,250.9 659.9,259.7 677.6,267.2 694.1,276.6 709.5,283.7 723.9,289.8 737.4,296.0 750.1,302.0 762.2,307.4 773.6,312.6 784.5,316.7 794.8,319.9 804.8,323.2 814.3,326.1 823.4,328.6 832.1,330.9 840.5,333.0 848.7,335.2 856.5,337.3 864.1,339.1 871.4,340.5 878.5,341.8 885.4,342.9 892.0,343.8 898.5,344.6" fill="none" stroke="#7a7a7a" stroke-width="1.4" stroke-dasharray="100 0"/>
<polyline points="417.3,115.5 466.2,141.5 506.4,162.2 540.4,180.1 569.9,195.4 596.0,205.5 619.4,216.8 640.5,225.3 659.9,232.4 677.6,239.1 694.1,245.2 709.5,251.9 723.9,257.0 737.4,262.2 750.1,267.5 762.2,271.4 773.6,276.6 784.5,280.7 794.8,284.7 804.8,289.7 814.3,293.3 823.4,295.5 832.1,297.2 840.5,298.9 848.7,300.6 856.5,302.2 864.1,303.6 871.4,304.5 878.5,305.2 885.4,305.8 892.0,306.2 898.5,306.4" fill="none" stroke="#8a8a8a" stroke-width="1.4" stroke-dasharray="100 0"/>
<polyline points="417.3,63.7 466.2,94.3 506.4,117.8 540.4,137.2 569.9,152.4 596.0,167.4 619.4,179.0 640.5,188.2 659.9,196.9 677.6,204.9 694.1,211.8 709.5,218.0 723.9,224.1 737.4,228.7 750.1,234.0 762.2,237.9 773.6,243.2 784.5,247.1 794.8,251.2 804.8,255.8 814.3,259.2 823.4,261.7 832.1,263.8 840.5,265.6 848.7,267.2 856.5,268.7 864.1,269.9 871.4,270.8 878.5,271.5 885.4,272.2 892.0,272.7 898.5,273.0" fill="none" stroke="#555" stroke-width="1.2" stroke-dasharray="2.5 1.5"/>
<path d="M417.3 124.1L425.8 124.1M417.3 124.1L423.6 130.4M417.3 124.1L417.3 132.6M417.3 124.1L411.0 130.4M417.3 124.1L408.8 124.1M417.3 124.1L411.0 117.8M417.3 124.1L417.3 115.6M417.3 124.1L423.6 117.8" stroke="#606060" stroke-width="1.4" stroke-linecap="round" fill="none"/><rect x="415.3" y="122.1" width="4.0" height="4.0" fill="#000"/>
<path d="M466.2 153.5L474.7 153.5M466.2 153.5L472.6 159.8M466.2 153.5L466.2 162.0M466.2 153.5L459.9 159.8M466.2 153.5L457.7 153.5M466.2 153.5L459.9 147.2M466.2 153.5L466.2 145.0M466.2 153.5L472.6 147.2" stroke="#606060" stroke-width="1.4" stroke-linecap="round" fill="none"/><rect x="464.2" y="151.5" width="4.0" height="4.0" fill="#000"/>
<path d="M506.4 178.1L514.9 178.1M506.4 178.1L512.7 184.4M506.4 178.1L506.4 186.6M506.4 178.1L500.1 184.4M506.4 178.1L497.9 178.1M506.4 178.1L500.1 171.8M506.4 178.1L506.4 169.6M506.4 178.1L512.7 171.8" stroke="#606060" stroke-width="1.4" stroke-linecap="round" fill="none"/><rect x="504.4" y="176.1" width="4.0" height="4.0" fill="#000"/>
<path d="M540.4 196.5L548.9 196.5M540.4 196.5L546.7 202.8M540.4 196.5L540.4 205.0M540.4 196.5L534.1 202.8M540.4 196.5L531.9 196.5M540.4 196.5L534.1 190.2M540.4 196.5L540.4 188.0M540.4 196.5L546.7 190.2" stroke="#606060" stroke-width="1.4" stroke-linecap="round" fill="none"/><rect x="538.4" y="194.5" width="4.0" height="4.0" fill="#000"/>
<path d="M569.9 212.8L578.4 212.8M569.9 212.8L576.2 219.1M569.9 212.8L569.9 221.3M569.9 212.8L563.6 219.1M569.9 212.8L561.4 212.8M569.9 212.8L563.6 206.5M569.9 212.8L569.9 204.3M569.9 212.8L576.2 206.5" stroke="#606060" stroke-width="1.4" stroke-linecap="round" fill="none"/><rect x="567.9" y="210.8" width="4.0" height="4.0" fill="#000"/>
<path d="M596.0 227.8L604.5 227.8M596.0 227.8L602.3 234.1M596.0 227.8L596.0 236.3M596.0 227.8L589.7 234.1M596.0 227.8L587.5 227.8M596.0 227.8L589.7 221.5M596.0 227.8L596.0 219.3M596.0 227.8L602.3 221.5" stroke="#606060" stroke-width="1.4" stroke-linecap="round" fill="none"/><rect x="594.0" y="225.8" width="4.0" height="4.0" fill="#000"/>
<path d="M619.4 239.6L627.9 239.6M619.4 239.6L625.7 245.9M619.4 239.6L619.4 248.1M619.4 239.6L613.1 245.9M619.4 239.6L610.9 239.6M619.4 239.6L613.1 233.3M619.4 239.6L619.4 231.1M619.4 239.6L625.7 233.3" stroke="#606060" stroke-width="1.4" stroke-linecap="round" fill="none"/><rect x="617.4" y="237.6" width="4.0" height="4.0" fill="#000"/>
<path d="M640.5 250.9L649.0 250.9M640.5 250.9L646.8 257.2M640.5 250.9L640.5 259.4M640.5 250.9L634.2 257.2M640.5 250.9L632.0 250.9M640.5 250.9L634.2 244.6M640.5 250.9L640.5 242.4M640.5 250.9L646.8 244.6" stroke="#606060" stroke-width="1.4" stroke-linecap="round" fill="none"/><rect x="638.5" y="248.9" width="4.0" height="4.0" fill="#000"/>
<path d="M659.9 259.7L668.4 259.7M659.9 259.7L666.2 266.0M659.9 259.7L659.9 268.2M659.9 259.7L653.5 266.0M659.9 259.7L651.4 259.7M659.9 259.7L653.5 253.4M659.9 259.7L659.9 251.2M659.9 259.7L666.2 253.4" stroke="#606060" stroke-width="1.4" stroke-linecap="round" fill="none"/><rect x="657.9" y="257.7" width="4.0" height="4.0" fill="#000"/>
<path d="M677.6 267.2L686.1 267.2M677.6 267.2L684.0 273.5M677.6 267.2L677.6 275.7M677.6 267.2L671.3 273.5M677.6 267.2L669.1 267.2M677.6 267.2L671.3 260.9M677.6 267.2L677.6 258.7M677.6 267.2L684.0 260.9" stroke="#606060" stroke-width="1.4" stroke-linecap="round" fill="none"/><rect x="675.6" y="265.2" width="4.0" height="4.0" fill="#000"/>
<path d="M694.1 276.6L702.6 276.6M694.1 276.6L700.4 282.9M694.1 276.6L694.1 285.1M694.1 276.6L687.8 282.9M694.1 276.6L685.6 276.6M694.1 276.6L687.8 270.3M694.1 276.6L694.1 268.1M694.1 276.6L700.4 270.3" stroke="#606060" stroke-width="1.4" stroke-linecap="round" fill="none"/><rect x="692.1" y="274.6" width="4.0" height="4.0" fill="#000"/>
<path d="M709.5 283.7L718.0 283.7M709.5 283.7L715.8 290.0M709.5 283.7L709.5 292.2M709.5 283.7L703.2 290.0M709.5 283.7L701.0 283.7M709.5 283.7L703.2 277.4M709.5 283.7L709.5 275.2M709.5 283.7L715.8 277.4" stroke="#606060" stroke-width="1.4" stroke-linecap="round" fill="none"/><rect x="707.5" y="281.7" width="4.0" height="4.0" fill="#000"/>
<path d="M723.9 289.8L732.4 289.8M723.9 289.8L730.2 296.1M723.9 289.8L723.9 298.3M723.9 289.8L717.5 296.1M723.9 289.8L715.4 289.8M723.9 289.8L717.5 283.5M723.9 289.8L723.9 281.3M723.9 289.8L730.2 283.5" stroke="#606060" stroke-width="1.4" stroke-linecap="round" fill="none"/><rect x="721.9" y="287.8" width="4.0" height="4.0" fill="#000"/>
<path d="M737.4 296.0L745.9 296.0M737.4 296.0L743.7 302.4M737.4 296.0L737.4 304.5M737.4 296.0L731.1 302.4M737.4 296.0L728.9 296.0M737.4 296.0L731.1 289.7M737.4 296.0L737.4 287.5M737.4 296.0L743.7 289.7" stroke="#606060" stroke-width="1.4" stroke-linecap="round" fill="none"/><rect x="735.4" y="294.0" width="4.0" height="4.0" fill="#000"/>
<path d="M750.1 302.0L758.6 302.0M750.1 302.0L756.4 308.3M750.1 302.0L750.1 310.5M750.1 302.0L743.8 308.3M750.1 302.0L741.6 302.0M750.1 302.0L743.8 295.7M750.1 302.0L750.1 293.5M750.1 302.0L756.4 295.7" stroke="#606060" stroke-width="1.4" stroke-linecap="round" fill="none"/><rect x="748.1" y="300.0" width="4.0" height="4.0" fill="#000"/>
<path d="M762.2 307.4L770.7 307.4M762.2 307.4L768.5 313.7M762.2 307.4L762.2 315.9M762.2 307.4L755.8 313.7M762.2 307.4L753.7 307.4M762.2 307.4L755.8 301.1M762.2 307.4L762.2 298.9M762.2 307.4L768.5 301.1" stroke="#606060" stroke-width="1.4" stroke-linecap="round" fill="none"/><rect x="760.2" y="305.4" width="4.0" height="4.0" fill="#000"/>
<path d="M773.6 312.6L782.1 312.6M773.6 312.6L779.9 318.9M773.6 312.6L773.6 321.1M773.6 312.6L767.3 318.9M773.6 312.6L765.1 312.6M773.6 312.6L767.3 306.3M773.6 312.6L773.6 304.1M773.6 312.6L779.9 306.3" stroke="#606060" stroke-width="1.4" stroke-linecap="round" fill="none"/><rect x="771.6" y="310.6" width="4.0" height="4.0" fill="#000"/>
<path d="M784.5 316.7L793.0 316.7M784.5 316.7L790.8 323.1M784.5 316.7L784.5 325.2M784.5 316.7L778.2 323.1M784.5 316.7L776.0 316.7M784.5 316.7L778.2 310.4M784.5 316.7L784.5 308.2M784.5 316.7L790.8 310.4" stroke="#606060" stroke-width="1.4" stroke-linecap="round" fill="none"/><rect x="782.5" y="314.7" width="4.0" height="4.0" fill="#000"/>
<path d="M794.8 319.9L803.3 319.9M794.8 319.9L801.2 326.3M794.8 319.9L794.8 328.4M794.8 319.9L788.5 326.3M794.8 319.9L786.3 319.9M794.8 319.9L788.5 313.6M794.8 319.9L794.8 311.4M794.8 319.9L801.2 313.6" stroke="#606060" stroke-width="1.4" stroke-linecap="round" fill="none"/><rect x="792.8" y="317.9" width="4.0" height="4.0" fill="#000"/>
<path d="M804.8 323.2L813.3 323.2M804.8 323.2L811.1 329.5M804.8 323.2L804.8 331.7M804.8 323.2L798.4 329.5M804.8 323.2L796.3 323.2M804.8 323.2L798.4 316.9M804.8 323.2L804.8 314.7M804.8 323.2L811.1 316.9" stroke="#606060" stroke-width="1.4" stroke-linecap="round" fill="none"/><rect x="802.8" y="321.2" width="4.0" height="4.0" fill="#000"/>
<path d="M814.3 326.1L822.8 326.1M814.3 326.1L820.6 332.4M814.3 326.1L814.3 334.6M814.3 326.1L807.9 332.4M814.3 326.1L805.8 326.1M814.3 326.1L807.9 319.8M814.3 326.1L814.3 317.6M814.3 326.1L820.6 319.8" stroke="#606060" stroke-width="1.4" stroke-linecap="round" fill="none"/><rect x="812.3" y="324.1" width="4.0" height="4.0" fill="#000"/>
<path d="M823.4 328.6L831.9 328.6M823.4 328.6L829.7 334.9M823.4 328.6L823.4 337.1M823.4 328.6L817.1 334.9M823.4 328.6L814.9 328.6M823.4 328.6L817.1 322.3M823.4 328.6L823.4 320.1M823.4 328.6L829.7 322.3" stroke="#606060" stroke-width="1.4" stroke-linecap="round" fill="none"/><rect x="821.4" y="326.6" width="4.0" height="4.0" fill="#000"/>
<path d="M832.1 330.9L840.6 330.9M832.1 330.9L838.4 337.2M832.1 330.9L832.1 339.4M832.1 330.9L825.8 337.2M832.1 330.9L823.6 330.9M832.1 330.9L825.8 324.6M832.1 330.9L832.1 322.4M832.1 330.9L838.4 324.6" stroke="#606060" stroke-width="1.4" stroke-linecap="round" fill="none"/><rect x="830.1" y="328.9" width="4.0" height="4.0" fill="#000"/>
<path d="M840.5 333.0L849.0 333.0M840.5 333.0L846.9 339.3M840.5 333.0L840.5 341.5M840.5 333.0L834.2 339.3M840.5 333.0L832.0 333.0M840.5 333.0L834.2 326.7M840.5 333.0L840.5 324.5M840.5 333.0L846.9 326.7" stroke="#606060" stroke-width="1.4" stroke-linecap="round" fill="none"/><rect x="838.5" y="331.0" width="4.0" height="4.0" fill="#000"/>
<path d="M848.7 335.2L857.2 335.2M848.7 335.2L855.0 341.5M848.7 335.2L848.7 343.7M848.7 335.2L842.4 341.5M848.7 335.2L840.2 335.2M848.7 335.2L842.4 328.9M848.7 335.2L848.7 326.7M848.7 335.2L855.0 328.9" stroke="#606060" stroke-width="1.4" stroke-linecap="round" fill="none"/><rect x="846.7" y="333.2" width="4.0" height="4.0" fill="#000"/>
<path d="M856.5 337.3L865.0 337.3M856.5 337.3L862.8 343.6M856.5 337.3L856.5 345.8M856.5 337.3L850.2 343.6M856.5 337.3L848.0 337.3M856.5 337.3L850.2 331.0M856.5 337.3L856.5 328.8M856.5 337.3L862.8 331.0" stroke="#606060" stroke-width="1.4" stroke-linecap="round" fill="none"/><rect x="854.5" y="335.3" width="4.0" height="4.0" fill="#000"/>
<path d="M864.1 339.1L872.6 339.1M864.1 339.1L870.4 345.4M864.1 339.1L864.1 347.6M864.1 339.1L857.8 345.4M864.1 339.1L855.6 339.1M864.1 339.1L857.8 332.8M864.1 339.1L864.1 330.6M864.1 339.1L870.4 332.8" stroke="#606060" stroke-width="1.4" stroke-linecap="round" fill="none"/><rect x="862.1" y="337.1" width="4.0" height="4.0" fill="#000"/>
<path d="M871.4 340.5L879.9 340.5M871.4 340.5L877.7 346.9M871.4 340.5L871.4 349.0M871.4 340.5L865.1 346.9M871.4 340.5L862.9 340.5M871.4 340.5L865.1 334.2M871.4 340.5L871.4 332.0M871.4 340.5L877.7 334.2" stroke="#606060" stroke-width="1.4" stroke-linecap="round" fill="none"/><rect x="869.4" y="338.5" width="4.0" height="4.0" fill="#000"/>
<path d="M878.5 341.8L887.0 341.8M878.5 341.8L884.8 348.1M878.5 341.8L878.5 350.3M878.5 341.8L872.2 348.1M878.5 341.8L870.0 341.8M878.5 341.8L872.2 335.5M878.5 341.8L878.5 333.3M878.5 341.8L884.8 335.5" stroke="#606060" stroke-width="1.4" stroke-linecap="round" fill="none"/><rect x="876.5" y="339.8" width="4.0" height="4.0" fill="#000"/>
<path d="M885.4 342.9L893.9 342.9M885.4 342.9L891.7 349.2M885.4 342.9L885.4 351.4M885.4 342.9L879.1 349.2M885.4 342.9L876.9 342.9M885.4 342.9L879.1 336.6M885.4 342.9L885.4 334.4M885.4 342.9L891.7 336.6" stroke="#606060" stroke-width="1.4" stroke-linecap="round" fill="none"/><rect x="883.4" y="340.9" width="4.0" height="4.0" fill="#000"/>
<path d="M892.0 343.8L900.5 343.8M892.0 343.8L898.3 350.1M892.0 343.8L892.0 352.3M892.0 343.8L885.7 350.1M892.0 343.8L883.5 343.8M892.0 343.8L885.7 337.5M892.0 343.8L892.0 335.3M892.0 343.8L898.3 337.5" stroke="#606060" stroke-width="1.4" stroke-linecap="round" fill="none"/><rect x="890.0" y="341.8" width="4.0" height="4.0" fill="#000"/>
<path d="M898.5 344.6L907.0 344.6M898.5 344.6L904.8 350.9M898.5 344.6L898.5 353.1M898.5 344.6L892.2 350.9M898.5 344.6L890.0 344.6M898.5 344.6L892.2 338.3M898.5 344.6L898.5 336.1M898.5 344.6L904.8 338.3" stroke="#606060" stroke-width="1.4" stroke-linecap="round" fill="none"/><rect x="896.5" y="342.6" width="4.0" height="4.0" fill="#000"/>
<circle cx="417.3" cy="115.5" r="8.6" fill="#fff" fill-opacity="0.8" stroke="#4a4a4a" stroke-width="1.5"/>
<circle cx="466.2" cy="141.5" r="8.6" fill="#fff" fill-opacity="0.8" stroke="#4a4a4a" stroke-width="1.5"/>
<circle cx="506.4" cy="162.2" r="8.6" fill="#fff" fill-opacity="0.8" stroke="#4a4a4a" stroke-width="1.5"/>
<circle cx="540.4" cy="180.1" r="8.6" fill="#fff" fill-opacity="0.8" stroke="#4a4a4a" stroke-width="1.5"/>
<circle cx="569.9" cy="195.4" r="8.6" fill="#fff" fill-opacity="0.8" stroke="#4a4a4a" stroke-width="1.5"/>
<circle cx="596.0" cy="205.5" r="8.6" fill="#fff" fill-opacity="0.8" stroke="#4a4a4a" stroke-width="1.5"/>
<circle cx="619.4" cy="216.8" r="8.6" fill="#fff" fill-opacity="0.8" stroke="#4a4a4a" stroke-width="1.5"/>
<circle cx="640.5" cy="225.3" r="8.6" fill="#fff" fill-opacity="0.8" stroke="#4a4a4a" stroke-width="1.5"/>
<circle cx="659.9" cy="232.4" r="8.6" fill="#fff" fill-opacity="0.8" stroke="#4a4a4a" stroke-width="1.5"/>
<circle cx="677.6" cy="239.1" r="8.6" fill="#fff" fill-opacity="0.8" stroke="#4a4a4a" stroke-width="1.5"/>
<circle cx="694.1" cy="245.2" r="8.6" fill="#fff" fill-opacity="0.8" stroke="#4a4a4a" stroke-width="1.5"/>
<circle cx="709.5" cy="251.9" r="8.6" fill="#fff" fill-opacity="0.8" stroke="#4a4a4a" stroke-width="1.5"/>
<circle cx="723.9" cy="257.0" r="8.6" fill="#fff" fill-opacity="0.8" stroke="#4a4a4a" stroke-width="1.5"/>
<circle cx="737.4" cy="262.2" r="8.6" fill="#fff" fill-opacity="0.8" stroke="#4a4a4a" stroke-width="1.5"/>
<circle cx="750.1" cy="267.5" r="8.6" fill="#fff" fill-opacity="0.8" stroke="#4a4a4a" stroke-width="1.5"/>
<circle cx="762.2" cy="271.4" r="8.6" fill="#fff" fill-opacity="0.8" stroke="#4a4a4a" stroke-width="1.5"/>
<circle cx="773.6" cy="276.6" r="8.6" fill="#fff" fill-opacity="0.8" stroke="#4a4a4a" stroke-width="1.5"/>
<circle cx="784.5" cy="280.7" r="8.6" fill="#fff" fill-opacity="0.8" stroke="#4a4a4a" stroke-width="1.5"/>
<circle cx="794.8" cy="284.7" r="8.6" fill="#fff" fill-opacity="0.8" stroke="#4a4a4a" stroke-width="1.5"/>
<circle cx="804.8" cy="289.7" r="8.6" fill="#fff" fill-opacity="0.8" stroke="#4a4a4a" stroke-width="1.5"/>
<circle cx="814.3" cy="293.3" r="8.6" fill="#fff" fill-opacity="0.8" stroke="#4a4a4a" stroke-width="1.5"/>
<circle cx="823.4" cy="295.5" r="8.6" fill="#fff" fill-opacity="0.8" stroke="#4a4a4a" stroke-width="1.5"/>
<circle cx="832.1" cy="297.2" r="8.6" fill="#fff" fill-opacity="0.8" stroke="#4a4a4a" stroke-width="1.5"/>
<circle cx="840.5" cy="298.9" r="8.6" fill="#fff" fill-opacity="0.8" stroke="#4a4a4a" stroke-width="1.5"/>
<circle cx="848.7" cy="300.6" r="8.6" fill="#fff" fill-opacity="0.8" stroke="#4a4a4a" stroke-width="1.5"/>
<circle cx="856.5" cy="302.2" r="8.6" fill="#fff" fill-opacity="0.8" stroke="#4a4a4a" stroke-width="1.5"/>
<circle cx="864.1" cy="303.6" r="8.6" fill="#fff" fill-opacity="0.8" stroke="#4a4a4a" stroke-width="1.5"/>
<circle cx="871.4" cy="304.5" r="8.6" fill="#fff" fill-opacity="0.8" stroke="#4a4a4a" stroke-width="1.5"/>
<circle cx="878.5" cy="305.2" r="8.6" fill="#fff" fill-opacity="0.8" stroke="#4a4a4a" stroke-width="1.5"/>
<circle cx="885.4" cy="305.8" r="8.6" fill="#fff" fill-opacity="0.8" stroke="#4a4a4a" stroke-width="1.5"/>
<circle cx="892.0" cy="306.2" r="8.6" fill="#fff" fill-opacity="0.8" stroke="#4a4a4a" stroke-width="1.5"/>
<circle cx="898.5" cy="306.4" r="8.6" fill="#fff" fill-opacity="0.8" stroke="#4a4a4a" stroke-width="1.5"/>
<circle cx="417.3" cy="63.7" r="9.5" fill="#000"/>
<circle cx="466.2" cy="94.3" r="9.5" fill="#000"/>
<circle cx="506.4" cy="117.8" r="9.5" fill="#000"/>
<circle cx="540.4" cy="137.2" r="9.5" fill="#000"/>
<circle cx="569.9" cy="152.4" r="9.5" fill="#000"/>
<circle cx="596.0" cy="167.4" r="9.5" fill="#000"/>
<circle cx="619.4" cy="179.0" r="9.5" fill="#000"/>
<circle cx="640.5" cy="188.2" r="9.5" fill="#000"/>
<circle cx="659.9" cy="196.9" r="9.5" fill="#000"/>
<circle cx="677.6" cy="204.9" r="9.5" fill="#000"/>
<circle cx="694.1" cy="211.8" r="9.5" fill="#000"/>
<circle cx="709.5" cy="218.0" r="9.5" fill="#000"/>
<circle cx="723.9" cy="224.1" r="9.5" fill="#000"/>
<circle cx="737.4" cy="228.7" r="9.5" fill="#000"/>
<circle cx="750.1" cy="234.0" r="9.5" fill="#000"/>
<circle cx="762.2" cy="237.9" r="9.5" fill="#000"/>
<circle cx="773.6" cy="243.2" r="9.5" fill="#000"/>
<circle cx="784.5" cy="247.1" r="9.5" fill="#000"/>
<circle cx="794.8" cy="251.2" r="9.5" fill="#000"/>
<circle cx="804.8" cy="255.8" r="9.5" fill="#000"/>
<circle cx="814.3" cy="259.2" r="9.5" fill="#000"/>
<circle cx="823.4" cy="261.7" r="9.5" fill="#000"/>
<circle cx="832.1" cy="263.8" r="9.5" fill="#000"/>
<circle cx="840.5" cy="265.6" r="9.5" fill="#000"/>
<circle cx="848.7" cy="267.2" r="9.5" fill="#000"/>
<circle cx="856.5" cy="268.7" r="9.5" fill="#000"/>
<circle cx="864.1" cy="269.9" r="9.5" fill="#000"/>
<circle cx="871.4" cy="270.8" r="9.5" fill="#000"/>
<circle cx="878.5" cy="271.5" r="9.5" fill="#000"/>
<circle cx="885.4" cy="272.2" r="9.5" fill="#000"/>
<circle cx="892.0" cy="272.7" r="9.5" fill="#000"/>
<circle cx="898.5" cy="273.0" r="9.5" fill="#000"/>
</svg></body></html>
